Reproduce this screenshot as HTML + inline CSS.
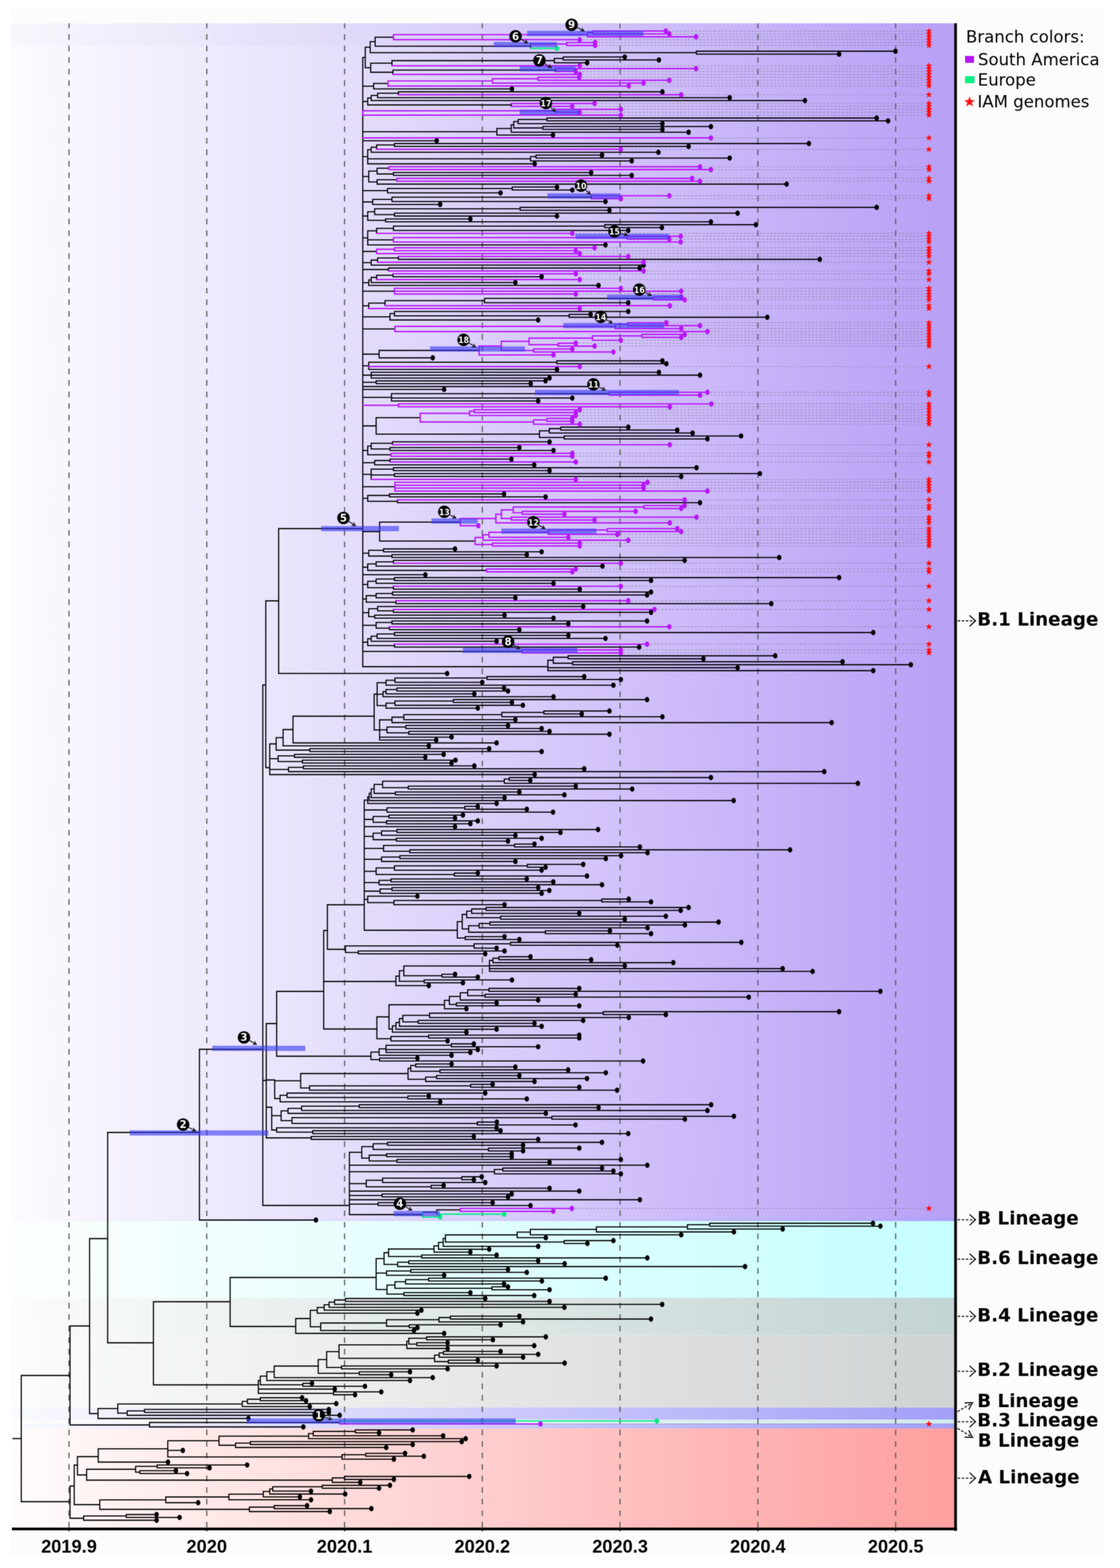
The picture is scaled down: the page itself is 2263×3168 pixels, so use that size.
<!DOCTYPE html>
<html lang="en"><head><meta charset="utf-8"><title>Phylogenetic tree</title>
<style>html,body{margin:0;padding:0;background:#fff}body{width:2263px;height:3168px;overflow:hidden}svg{display:block}.ax{font-family:"Liberation Sans",Arial,sans-serif;font-weight:700;font-size:36.8px;text-anchor:middle}.lg{font-family:"DejaVu Sans","Liberation Sans",sans-serif;font-size:33.45px}.ln{font-family:"DejaVu Sans","Liberation Sans",sans-serif;font-weight:700;font-size:36.95px}.nb{font-family:"DejaVu Sans","Liberation Sans",sans-serif;font-weight:700;fill:#fff;text-anchor:middle}</style></head><body>
<svg width="2263" height="3168" viewBox="0 0 2263 3168">
<defs>
<filter id="bl" filterUnits="userSpaceOnUse" x="0" y="0" width="2263" height="3168" color-interpolation-filters="sRGB"><feGaussianBlur stdDeviation="0.9" result="b"/><feComposite in="SourceGraphic" in2="b" operator="arithmetic" k1="0" k2="0.45" k3="0.55" k4="0"/></filter>
<linearGradient id="gp" gradientUnits="userSpaceOnUse" x1="25" y1="0" x2="1930" y2="0"><stop offset="0" stop-color="#fcfbff"/><stop offset="0.3" stop-color="#e9e3fc"/><stop offset="0.7" stop-color="#cebcfa"/><stop offset="1" stop-color="#b8a0f6"/></linearGradient>
<linearGradient id="gc" gradientUnits="userSpaceOnUse" x1="25" y1="0" x2="1930" y2="0"><stop offset="0" stop-color="#fcfefe"/><stop offset="1" stop-color="#c6feff"/></linearGradient>
<linearGradient id="g4" gradientUnits="userSpaceOnUse" x1="25" y1="0" x2="1930" y2="0"><stop offset="0" stop-color="#fbfcfc"/><stop offset="1" stop-color="#c2d4d3"/></linearGradient>
<linearGradient id="g2" gradientUnits="userSpaceOnUse" x1="25" y1="0" x2="1930" y2="0"><stop offset="0" stop-color="#fcfcfc"/><stop offset="1" stop-color="#d0d3d3"/></linearGradient>
<linearGradient id="gb" gradientUnits="userSpaceOnUse" x1="25" y1="0" x2="1930" y2="0"><stop offset="0" stop-color="#fafaff"/><stop offset="1" stop-color="#a39ff8"/></linearGradient>
<linearGradient id="g3" gradientUnits="userSpaceOnUse" x1="25" y1="0" x2="1930" y2="0"><stop offset="0" stop-color="#fcfdfd"/><stop offset="1" stop-color="#d2ebeb"/></linearGradient>
<linearGradient id="gr" gradientUnits="userSpaceOnUse" x1="25" y1="0" x2="1930" y2="0"><stop offset="0" stop-color="#fffcfc"/><stop offset="1" stop-color="#ff9f9f"/></linearGradient>
<linearGradient id="gtop" gradientUnits="userSpaceOnUse" x1="22" y1="0" x2="1930" y2="0"><stop offset="0" stop-color="#b0b8e0" stop-opacity="0.05"/><stop offset="0.3" stop-color="#a8b0e8" stop-opacity="0.08"/><stop offset="1" stop-color="#a8b0e8" stop-opacity="0"/></linearGradient>
</defs>
<g filter="url(#bl)">
<rect x="0" y="0" width="2263" height="3168" fill="#fff"/>
<rect x="22" y="16" width="2208" height="3125" fill="#fcfcfc"/>
<rect x="25" y="47" width="1905" height="2420" fill="url(#gp)"/>
<rect x="25" y="2461.5" width="1905" height="5.5" fill="url(#gb)" opacity="0.55"/>
<rect x="22" y="47" width="1906" height="46" fill="url(#gtop)"/>
<rect x="25" y="2467" width="1905" height="155" fill="url(#gc)"/>
<rect x="25" y="2622" width="1905" height="75.5" fill="url(#g4)"/>
<rect x="25" y="2697.5" width="1905" height="146.5" fill="url(#g2)"/>
<rect x="25" y="2844" width="1905" height="24" fill="url(#gb)"/>
<rect x="25" y="2868" width="1905" height="8" fill="url(#g3)"/>
<rect x="25" y="2876" width="1905" height="10" fill="url(#gb)"/>
<rect x="25" y="2886" width="1905" height="202" fill="url(#gr)"/>
<clipPath id="cp"><rect x="0" y="47.3" width="2263" height="3050"/></clipPath>
<g clip-path="url(#cp)">
<line x1="139.4" y1="45.75" x2="139.4" y2="3086" stroke="#626262" stroke-width="2.5" stroke-dasharray="11.4 11.9"/>
<line x1="417.8" y1="45.75" x2="417.8" y2="3086" stroke="#626262" stroke-width="2.5" stroke-dasharray="11.4 11.9"/>
<line x1="696.2" y1="45.75" x2="696.2" y2="3086" stroke="#626262" stroke-width="2.5" stroke-dasharray="11.4 11.9"/>
<line x1="974.5" y1="45.75" x2="974.5" y2="3086" stroke="#626262" stroke-width="2.5" stroke-dasharray="11.4 11.9"/>
<line x1="1252.9" y1="45.75" x2="1252.9" y2="3086" stroke="#626262" stroke-width="2.5" stroke-dasharray="11.4 11.9"/>
<line x1="1531.3" y1="45.75" x2="1531.3" y2="3086" stroke="#626262" stroke-width="2.5" stroke-dasharray="11.4 11.9"/>
<line x1="1809.7" y1="45.75" x2="1809.7" y2="3086" stroke="#626262" stroke-width="2.5" stroke-dasharray="11.4 11.9"/>
</g>
<path d="M1351.0 62.7H1869M1358.0 68.5H1869M1412.0 74.4H1869M1177.0 80.2H1869M1208.0 86.0H1869M1208.0 91.8H1869M1177.0 132.8H1869M1412.0 138.6H1869M1169.0 144.5H1869M1177.0 150.4H1869M1176.0 156.2H1869M1358.0 162.1H1869M1306.0 167.9H1869M1276.0 173.8H1869M1382.0 191.4H1869M1207.0 209.1H1869M1162.0 214.9H1869M1260.0 220.8H1869M1177.0 226.7H1869M1260.0 232.6H1869M1442.0 278.6H1869M1260.0 301.7H1869M1420.0 336.9H1869M1442.0 342.7H1869M1404.0 360.3H1869M1420.0 366.1H1869M1358.0 395.5H1869M1260.0 401.4H1869M1162.0 471.5H1869M1381.0 477.3H1869M1358.0 483.2H1869M1381.0 489.0H1869M1207.0 500.7H1869M1169.0 506.5H1869M1177.0 512.3H1869M1275.0 518.2H1869M1306.0 529.8H1869M1306.0 547.4H1869M1169.0 553.2H1869M1177.0 564.9H1869M1260.0 582.5H1869M1382.0 588.3H1869M1169.0 594.2H1869M1382.0 600.0H1869M1389.0 605.9H1869M1359.0 617.6H1869M1177.0 623.4H1869M1352.0 652.0H1869M1420.0 657.9H1869M1382.0 663.8H1869M1435.0 669.8H1869M1389.0 675.7H1869M1382.0 681.6H1869M1260.0 687.5H1869M1169.0 693.4H1869M1207.0 699.3H1869M1177.0 740.6H1869M1435.0 792.5H1869M1420.0 798.4H1869M1443.0 816.0H1869M1359.0 821.9H1869M1177.0 827.8H1869M1169.0 833.6H1869M1169.0 839.5H1869M1162.0 845.4H1869M1162.0 851.2H1869M1177.0 857.1H1869M1359.0 898.5H1869M1162.0 915.9H1869M1162.0 921.8H1869M1169.0 933.4H1869M1169.0 968.6H1869M1314.0 974.5H1869M1306.0 980.4H1869M1306.0 986.2H1869M1435.0 992.1H1869M1389.0 1009.8H1869M1389.0 1021.5H1869M1382.0 1027.3H1869M1413.0 1044.8H1869M1207.0 1050.6H1869M1359.0 1056.4H1869M1374.0 1068.0H1869M1382.0 1073.9H1869M1253.0 1079.7H1869M1154.0 1085.6H1869M1275.0 1091.4H1869M1177.0 1097.3H1869M1177.0 1103.1H1869M1260.0 1138.0H1869M1169.0 1149.6H1869M1162.0 1155.4H1869M1260.0 1184.5H1869M1275.0 1213.7H1869M1328.0 1231.3H1869M1358.0 1266.3H1869M1313.0 1301.5H1869M1260.0 1313.2H1869M1260.0 1319.1H1869M1161.0 2441.5H1869M1097.6 2877.0H1869" stroke="#7e7b8e" stroke-width="1.4" stroke-dasharray="4.2 3.4" fill="none" opacity="0.68"/>
<path d="M43.0 2779.0V3034.0M43.0 2779.0H141.5M141.5 2679.0V2879.0M141.5 2679.0H181.0M181.0 2502.5V2856.0M181.0 2502.5H217.5M217.5 2288.0V2713.0M217.5 2288.0H403.0M403.0 2120.0V2465.0M403.0 2120.0H531.0M531.0 1384.0V2435.5M531.0 1384.0H537.0M537.0 1214.0V1551.0M537.0 1214.0H563.0M563.0 1068.0V1360.7M563.0 1068.0H733.0M733.0 116.1V1347.0M733.0 116.1H738.0M738.0 95.3V136.8M738.0 95.3H748.0M748.0 84.2V106.4M748.0 84.2H758.0M758.0 75.1V93.3M758.0 75.1H795.0M758.0 93.3H1072.0M1072.0 88.9V97.7M748.0 106.4H1407.0M1407.0 103.5V109.4M1407.0 103.5H1809.0M1407.0 109.4H1695.0M738.0 136.8H749.0M749.0 127.7V146.0M749.0 127.7H792.0M792.0 122.5V132.8M792.0 122.5H1120.0M1120.0 118.1V126.9M1120.0 118.1H1138.0M1138.0 115.2V121.1M1138.0 115.2H1262.0M1138.0 121.1H1331.0M1120.0 126.9H1186.0M749.0 146.0H794.0M794.0 141.6V150.4M794.0 141.6H1122.0M1122.0 138.6V144.5M733.0 174.2H755.0M755.0 168.7V179.6M755.0 168.7H784.0M755.0 179.6H1034.0M733.0 205.0H743.0M743.0 198.0V212.0M743.0 198.0H750.0M750.0 192.9V203.2M750.0 192.9H763.0M763.0 188.4V197.3M763.0 188.4H805.0M805.0 185.5V191.4M805.0 185.5H1338.0M763.0 197.3H1474.0M750.0 203.2H1626.0M743.0 212.0H1033.0M1033.0 209.1V214.9M733.0 266.2H1004.0M1004.0 259.6V272.8M1004.0 259.6H1033.0M1033.0 252.1V267.1M1033.0 252.1H1038.0M1038.0 245.7V258.5M1038.0 245.7H1047.0M1047.0 241.4V249.9M1047.0 241.4H1105.0M1105.0 238.5V244.2M1105.0 238.5H1771.0M1105.0 244.2H1794.0M1047.0 249.9H1338.0M1038.0 258.5H1097.0M1097.0 255.7V261.4M1097.0 255.7H1436.0M1097.0 261.4H1338.0M1033.0 267.1H1391.0M1004.0 272.8H1117.0M733.0 284.3H882.0M733.0 316.7H743.0M743.0 302.4V331.0M743.0 302.4H750.0M750.0 297.3V307.6M750.0 297.3H761.0M761.0 292.9V301.7M761.0 292.9H797.0M797.0 290.0V295.9M797.0 290.0H1634.0M797.0 295.9H1391.0M750.0 307.6H1330.0M743.0 320.8H1072.0M1072.0 316.4V325.1M1072.0 316.4H1083.0M1083.0 313.4V319.3M1083.0 313.4H1216.0M1083.0 319.3H1474.0M1072.0 325.1H1276.0M743.0 331.0H1080.0M733.0 356.6H745.0M745.0 345.6V367.6M745.0 345.6H762.0M762.0 339.8V351.5M762.0 339.8H786.0M762.0 351.5H795.0M795.0 348.6V354.4M795.0 348.6H1194.0M795.0 354.4H1276.0M745.0 367.6H762.0M762.0 363.2V372.0M762.0 363.2H802.0M762.0 372.0H1589.0M733.0 385.2H783.0M783.0 380.8V389.6M783.0 380.8H1035.0M1035.0 377.9V383.8M1035.0 377.9H1125.0M1035.0 383.8H1156.0M783.0 389.6H1011.0M733.0 408.0H753.0M753.0 402.8V413.1M753.0 402.8H792.0M792.0 398.4V407.2M792.0 398.4H1195.0M1195.0 395.5V401.4M792.0 407.2H1223.0M753.0 413.1H889.0M733.0 436.5H743.0M743.0 427.8V445.2M743.0 427.8H757.0M757.0 421.9V433.6M757.0 421.9H1051.0M1051.0 419.0V424.8M1051.0 419.0H1771.0M1051.0 424.8H1231.0M757.0 433.6H797.0M797.0 430.7V436.5M797.0 430.7H1490.0M797.0 436.5H1125.0M743.0 445.2H779.0M779.0 442.3V448.2M779.0 442.3H950.0M779.0 448.2H1436.0M733.0 480.6H743.0M743.0 466.4V494.8M743.0 466.4H761.0M761.0 461.3V471.5M761.0 461.3H795.0M795.0 456.9V465.7M795.0 456.9H1222.0M1222.0 454.0V459.8M1222.0 454.0H1527.0M1222.0 459.8H1337.0M795.0 465.7H1269.0M743.0 484.6H795.0M743.0 494.8H1223.0M733.0 508.0H761.0M733.0 530.6H750.0M750.0 525.5V535.7M750.0 525.5H763.0M763.0 521.1V529.8M763.0 521.1H805.0M805.0 518.2V524.0M805.0 524.0H1656.0M750.0 535.7H1300.0M733.0 544.5H785.0M785.0 541.5V547.4M785.0 541.5H1292.0M733.0 571.1H745.0M745.0 565.7V576.6M745.0 565.7H750.0M750.0 560.5V570.8M750.0 560.5H761.0M761.0 556.2V564.9M761.0 556.2H794.0M794.0 553.2V559.1M794.0 559.1H1094.0M750.0 570.8H1041.0M745.0 576.6H1209.0M733.0 588.3H797.0M733.0 617.9H745.0M745.0 612.4V623.4M745.0 612.4H778.0M778.0 607.3V617.6M778.0 607.3H979.0M979.0 602.9V611.7M979.0 602.9H1320.0M979.0 611.7H1269.0M733.0 640.1H788.0M788.0 633.7V646.5M788.0 633.7H797.0M797.0 629.3V638.1M797.0 629.3H1269.0M797.0 638.1H1150.0M1150.0 635.1V641.0M1150.0 635.1H1193.0M1150.0 641.0H1550.0M788.0 646.5H1087.0M733.0 664.6H798.0M733.0 715.5H766.0M766.0 708.0V723.0M766.0 708.0H968.0M766.0 723.0H874.0M733.0 739.1H745.0M745.0 731.9V746.4M745.0 731.9H1125.0M1125.0 729.0V734.8M1125.0 729.0H1338.0M1125.0 734.8H1346.0M745.0 746.4H1125.0M733.0 758.0H750.0M750.0 752.2V763.8M750.0 752.2H1331.0M750.0 758.0H1414.0M750.0 763.8H1110.0M733.0 772.4H760.0M760.0 769.5V775.2M760.0 769.5H1102.0M760.0 775.2H1072.0M733.0 781.0H1195.0M733.0 786.8H897.0M733.0 802.8H791.0M791.0 795.4V810.1M791.0 795.4H1231.0M791.0 804.2H1156.0M791.0 810.1H1087.0M733.0 860.5H737.0M737.0 860.5V860.5M737.0 860.5H760.0M760.0 843.9V877.1M760.0 843.9H849.0M760.0 877.1H1090.0M1090.0 870.4V883.8M1090.0 870.4H1110.0M1110.0 866.0V874.9M1110.0 866.0H1133.0M1133.0 863.0V868.9M1133.0 863.0H1269.0M1133.0 868.9H1368.0M1110.0 874.9H1399.0M1090.0 883.8H1140.0M1140.0 880.8V886.8M1140.0 880.8H1497.0M1140.0 886.8H1429.0M733.0 910.1H743.0M743.0 901.4V918.9M743.0 901.4H750.0M750.0 895.6V907.2M750.0 895.6H793.0M793.0 892.7V898.5M793.0 892.7H1110.0M750.0 907.2H788.0M788.0 904.3V910.1M788.0 904.3H1049.0M788.0 910.1H1118.0M743.0 918.9H790.0M733.0 934.8H757.0M757.0 930.5V939.2M757.0 930.5H788.0M788.0 927.6V933.4M788.0 927.6H1033.0M757.0 939.2H1079.0M733.0 958.3H750.0M750.0 947.9V968.6M750.0 947.9H795.0M795.0 945.0V950.9M795.0 945.0H1407.0M795.0 950.9H1110.0M750.0 959.7H797.0M797.0 956.8V962.7M797.0 956.8H1535.0M797.0 962.7H1376.0M733.0 983.3H798.0M733.0 1006.9H743.0M743.0 1001.0V1012.8M743.0 1001.0H787.0M787.0 998.0V1003.9M787.0 998.0H1018.0M787.0 1003.9H1102.0M743.0 1012.8H803.0M803.0 1009.8V1015.7M803.0 1015.7H1414.0M733.0 1074.0H767.0M767.0 1054.9V1093.1M767.0 1054.9H930.0M767.0 1093.1H960.0M733.0 1117.7H745.0M745.0 1111.9V1123.5M745.0 1111.9H775.0M775.0 1109.0V1114.8M775.0 1109.0H919.0M775.0 1114.8H1094.0M745.0 1123.5H792.0M792.0 1120.6V1126.4M792.0 1120.6H1064.0M792.0 1126.4H1574.0M733.0 1146.0H743.0M743.0 1139.4V1152.5M743.0 1139.4H760.0M760.0 1135.1V1143.8M760.0 1135.1H795.0M795.0 1132.2V1138.0M795.0 1132.2H1383.0M760.0 1143.8H1217.0M743.0 1152.5H983.0M733.0 1161.2H859.0M733.0 1180.9H743.0M743.0 1174.3V1187.4M743.0 1174.3H760.0M760.0 1169.9V1178.7M760.0 1169.9H797.0M797.0 1167.0V1172.8M797.0 1167.0H1695.0M797.0 1172.8H1315.0M760.0 1178.7H1118.0M743.0 1187.4H795.0M795.0 1184.5V1190.4M795.0 1190.4H1171.0M733.0 1210.1H740.0M740.0 1203.5V1216.7M740.0 1203.5H760.0M760.0 1199.1V1207.9M760.0 1199.1H793.0M793.0 1196.2V1202.1M793.0 1196.2H1315.0M793.0 1202.1H1307.0M760.0 1207.9H1041.0M740.0 1216.7H800.0M800.0 1213.7V1219.6M800.0 1219.6H1558.0M733.0 1237.8H745.0M745.0 1229.8V1245.9M745.0 1229.8H763.0M763.0 1225.4V1234.2M763.0 1225.4H1178.0M763.0 1234.2H795.0M795.0 1231.3V1237.1M795.0 1237.1H1315.0M745.0 1245.9H757.0M757.0 1242.9V1248.8M757.0 1242.9H1019.0M757.0 1248.8H1118.0M733.0 1263.4H743.0M743.0 1263.4V1263.4M743.0 1263.4H760.0M760.0 1257.6V1269.2M760.0 1257.6H792.0M792.0 1254.6V1260.5M792.0 1254.6H1307.0M792.0 1260.5H1148.0M760.0 1269.2H787.0M787.0 1266.3V1272.2M787.0 1272.2H1049.0M733.0 1297.5H743.0M743.0 1290.5V1304.4M743.0 1290.5H750.0M750.0 1285.3V1295.6M750.0 1285.3H762.0M762.0 1280.9V1289.8M762.0 1280.9H797.0M797.0 1278.0V1283.9M797.0 1278.0H1764.0M797.0 1283.9H1148.0M762.0 1289.8H1223.0M750.0 1295.6H1003.0M743.0 1304.4H797.0M797.0 1301.5V1307.4M797.0 1307.4H1291.0M733.0 1316.2H1055.0M733.0 1347.0H1107.0M1107.0 1334.0V1355.0M1107.0 1334.0H1118.0M1118.0 1328.0V1340.0M1118.0 1328.0H1148.0M1148.0 1325.0V1331.0M1148.0 1325.0H1566.0M1148.0 1331.0H1421.0M1118.0 1340.0H1157.0M1157.0 1337.0V1343.0M1157.0 1337.0H1702.0M1157.0 1343.0H1840.0M1107.0 1349.0H1490.0M1107.0 1355.0H1764.0M563.0 1360.7H903.0M537.0 1551.0H545.0M545.0 1503.0V1565.0M545.0 1503.0H558.0M558.0 1490.4V1515.5M558.0 1490.4H572.0M572.0 1474.0V1506.8M572.0 1474.0H592.0M592.0 1447.0V1501.0M592.0 1447.0H756.0M756.0 1402.5V1474.8M756.0 1402.5H762.0M762.0 1379.4V1425.7M762.0 1379.4H780.0M780.0 1374.3V1384.4M780.0 1374.3H798.0M798.0 1369.9V1378.6M798.0 1369.9H984.0M984.0 1367.0V1372.8M984.0 1367.0H1180.0M984.0 1372.8H1254.0M798.0 1378.6H974.0M780.0 1384.4H1239.0M762.0 1402.6H774.0M774.0 1397.5V1407.7M774.0 1397.5H780.0M780.0 1393.2V1401.9M780.0 1393.2H802.0M802.0 1390.2V1396.1M802.0 1390.2H1018.0M802.0 1396.1H1026.0M780.0 1401.9H958.0M774.0 1407.7H1118.0M762.0 1425.7H780.0M780.0 1420.7V1430.8M780.0 1420.7H798.0M798.0 1416.4V1425.0M798.0 1416.4H916.0M916.0 1413.5V1419.2M916.0 1413.5H1307.0M916.0 1419.2H1034.0M798.0 1425.0H1056.0M780.0 1430.8H965.0M756.0 1474.8H767.0M767.0 1454.5V1495.2M767.0 1454.5H792.0M792.0 1449.0V1460.0M792.0 1449.0H816.0M816.0 1443.8V1454.1M816.0 1443.8H1014.0M1014.0 1439.4V1448.2M1014.0 1439.4H1099.0M1099.0 1436.5V1442.4M1099.0 1436.5H1231.0M1099.0 1442.4H1175.0M1014.0 1448.2H1338.0M816.0 1454.1H1041.0M792.0 1460.0H1680.0M767.0 1474.7H782.0M782.0 1468.8V1480.6M782.0 1468.8H820.0M820.0 1465.9V1471.8M820.0 1465.9H1026.0M820.0 1471.8H1094.0M782.0 1480.6H826.0M826.0 1477.6V1483.5M826.0 1477.6H1110.0M826.0 1483.5H1231.0M767.0 1489.3H912.0M767.0 1495.2H881.0M592.0 1501.0H1003.0M572.0 1506.8H866.0M558.0 1515.5H626.0M626.0 1512.6V1518.4M626.0 1512.6H988.0M626.0 1518.4H1094.0M545.0 1532.9H562.0M562.0 1527.1V1538.7M562.0 1527.1H595.0M595.0 1524.2V1530.0M595.0 1524.2H896.0M595.0 1530.0H859.0M562.0 1538.7H611.0M611.0 1535.8V1541.6M611.0 1535.8H920.0M611.0 1541.6H912.0M545.0 1554.7H583.0M583.0 1550.3V1559.0M583.0 1550.3H613.0M613.0 1547.4V1553.2M613.0 1547.4H958.0M613.0 1553.2H1180.0M583.0 1559.0H1665.0M545.0 1565.0H1080.0M531.0 2183.0H538.0M538.0 2068.0V2299.0M538.0 2068.0H559.0M559.0 2003.0V2134.0M559.0 2003.0H654.0M654.0 1880.0V2079.0M654.0 1880.0H661.5M661.5 1828.0V1918.0M661.5 1828.0H736.0M736.0 1616.7V1879.5M736.0 1616.7H743.0M743.0 1610.1V1623.3M743.0 1610.1H746.0M746.0 1602.8V1617.5M746.0 1602.8H750.0M750.0 1593.9V1611.7M750.0 1593.9H756.0M756.0 1584.8V1603.0M756.0 1584.8H773.0M773.0 1578.3V1591.3M773.0 1578.3H1019.0M1019.0 1573.9V1582.6M1019.0 1573.9H1029.0M1029.0 1571.0V1576.8M1029.0 1571.0H1436.0M1029.0 1576.8H1071.0M1019.0 1582.6H1733.0M773.0 1591.3H825.0M825.0 1588.4V1594.2M825.0 1588.4H1163.0M825.0 1594.2H1277.0M756.0 1603.0H799.0M799.0 1600.1V1605.9M799.0 1600.1H1049.0M799.0 1605.9H1140.0M750.0 1611.7H1019.0M746.0 1617.5H1482.0M743.0 1623.3H1003.0M736.0 1636.5H782.0M782.0 1632.1V1640.9M782.0 1632.1H939.0M939.0 1629.2V1635.0M939.0 1629.2H965.0M939.0 1635.0H1064.0M782.0 1640.9H1117.0M736.0 1655.5H754.0M754.0 1649.7V1661.4M754.0 1649.7H786.0M786.0 1646.8V1652.6M786.0 1646.8H935.0M786.0 1652.6H919.0M754.0 1661.4H781.0M781.0 1658.5V1664.3M781.0 1658.5H965.0M781.0 1664.3H950.0M736.0 1670.2H919.0M736.0 1689.9H754.0M754.0 1683.3V1696.5M754.0 1683.3H771.0M771.0 1678.9V1687.7M771.0 1678.9H802.0M802.0 1676.0V1681.9M802.0 1676.0H1208.0M802.0 1681.9H1132.0M771.0 1687.7H1041.0M754.0 1696.5H801.0M801.0 1693.6V1699.4M801.0 1693.6H1094.0M801.0 1699.4H1026.0M736.0 1714.1H775.0M775.0 1708.2V1719.9M775.0 1708.2H1039.5M1039.5 1705.3V1711.1M1039.5 1705.3H1079.5M1039.5 1711.1H1292.5M775.0 1719.9H828.0M828.0 1717.0V1722.9M828.0 1717.0H1596.0M828.0 1722.9H1308.0M736.0 1736.1H771.0M771.0 1731.7V1740.5M771.0 1731.7H808.0M808.0 1728.8V1734.6M808.0 1728.8H1254.5M808.0 1734.6H1223.6M771.0 1740.5H1041.0M736.0 1760.3H760.0M760.0 1753.7V1766.9M760.0 1753.7H797.0M797.0 1749.3V1758.1M797.0 1749.3H1065.5M1065.5 1746.4V1752.2M1065.5 1746.4H1178.0M1065.5 1752.2H1102.0M797.0 1758.1H1094.0M760.0 1766.9H918.0M918.0 1764.0V1769.9M918.0 1764.0H965.0M918.0 1769.9H1185.6M736.0 1783.1H766.0M766.0 1778.7V1787.5M766.0 1778.7H790.0M790.0 1775.8V1781.6M790.0 1775.8H1064.0M790.0 1781.6H1117.5M766.0 1787.5H1216.0M736.0 1800.5H768.0M768.0 1796.2V1804.9M768.0 1796.2H792.0M792.0 1793.3V1799.1M792.0 1793.3H1087.0M792.0 1799.1H1109.5M768.0 1804.9H1094.0M736.0 1817.1H743.0M743.0 1810.7V1823.6M743.0 1810.7H843.0M743.0 1823.6H796.0M796.0 1819.3V1827.8M796.0 1819.3H1216.0M1216.0 1816.5V1822.2M1216.0 1816.5H1270.0M1216.0 1822.2H1315.0M796.0 1827.8H1019.0M736.0 1879.5H924.0M924.0 1862.2V1895.2M924.0 1862.2H934.0M934.0 1847.5V1876.9M934.0 1847.5H943.0M943.0 1840.9V1854.2M943.0 1840.9H953.0M953.0 1836.5V1845.3M953.0 1836.5H982.0M982.0 1833.5V1839.4M982.0 1833.5H1391.0M982.0 1839.4H1375.0M953.0 1845.3H1170.0M943.0 1854.2H1011.5M1011.5 1851.2V1857.1M1011.5 1851.2H1345.0M1011.5 1857.1H1262.0M934.0 1876.9H947.0M947.0 1870.3V1883.5M947.0 1870.3H968.0M968.0 1865.9V1874.7M968.0 1865.9H990.0M990.0 1863.0V1868.9M990.0 1863.0H1451.5M990.0 1868.9H1383.5M968.0 1874.7H1308.0M947.0 1883.5H1102.0M1102.0 1880.6V1886.4M1102.0 1880.6H1232.0M1102.0 1886.4H1315.0M924.0 1895.2H940.0M940.0 1892.3V1898.1M940.0 1892.3H1019.0M940.0 1898.1H1049.0M661.5 1918.0H698.0M698.0 1911.2V1924.3M698.0 1911.2H958.0M958.0 1906.9V1915.6M958.0 1906.9H1031.5M1031.5 1904.0V1909.8M1031.5 1904.0H1497.5M1031.5 1909.8H1247.0M958.0 1915.6H1003.0M698.0 1924.3H724.0M724.0 1921.4V1927.2M724.0 1921.4H1019.0M724.0 1927.2H980.0M654.0 1983.0H800.0M800.0 1972.1V1991.3M800.0 1972.1H807.0M807.0 1961.4V1982.7M807.0 1961.4H816.0M816.0 1951.6V1971.3M816.0 1951.6H989.0M989.0 1940.5V1962.7M989.0 1940.5H996.0M996.0 1936.0V1945.0M996.0 1936.0H1008.0M1008.0 1933.0V1939.0M1008.0 1933.0H1071.5M1008.0 1939.0H1194.0M996.0 1945.0H1360.0M989.0 1951.0H1262.0M989.0 1957.0H1581.0M989.0 1962.7H1641.5M816.0 1971.3H893.0M893.0 1968.4V1974.1M893.0 1968.4H919.0M893.0 1974.1H965.0M807.0 1982.7H857.0M857.0 1979.9V1985.6M857.0 1979.9H1034.0M857.0 1985.6H935.0M800.0 1991.3H866.0M654.0 2079.0H761.5M761.5 2054.5V2098.7M761.5 2054.5H786.0M786.0 2030.0V2079.0M786.0 2030.0H898.0M898.0 2021.2V2038.1M898.0 2021.2H908.0M908.0 2013.2V2029.3M908.0 2013.2H930.0M930.0 2005.8V2020.5M930.0 2005.8H945.0M945.0 1999.9V2011.7M945.0 1999.9H988.0M988.0 1997.0V2002.9M988.0 1997.0H1170.0M988.0 2002.9H1778.5M945.0 2011.7H980.0M980.0 2008.8V2014.6M980.0 2008.8H1163.0M980.0 2014.6H1512.5M930.0 2020.5H1087.0M908.0 2029.3H922.0M922.0 2026.4V2032.2M922.0 2026.4H1003.0M922.0 2032.2H1170.0M898.0 2038.1H942.0M786.0 2079.0H793.0M793.0 2072.6V2085.4M793.0 2072.6H800.0M800.0 2065.8V2079.5M800.0 2065.8H807.0M807.0 2058.0V2073.5M807.0 2058.0H814.0M814.0 2051.4V2064.7M814.0 2051.4H868.0M868.0 2047.0V2055.8M868.0 2047.0H1219.0M1219.0 2044.0V2049.9M1219.0 2044.0H1695.0M1219.0 2049.9H1345.0M868.0 2055.8H1270.0M814.0 2064.7H845.0M845.0 2061.7V2067.6M845.0 2061.7H1178.0M845.0 2067.6H1079.5M807.0 2073.5H1094.0M800.0 2079.5H1003.0M793.0 2085.4H942.0M761.5 2098.7H775.6M775.6 2098.7V2098.7M775.6 2098.7H790.0M790.0 2094.2V2103.1M790.0 2094.2H866.0M866.0 2091.3V2097.2M866.0 2091.3H1170.0M866.0 2097.2H1170.0M790.0 2103.1H904.0M559.0 2134.0H749.5M749.5 2125.6V2140.8M749.5 2125.6H766.0M766.0 2119.1V2132.1M766.0 2119.1H780.0M780.0 2111.9V2126.3M780.0 2111.9H912.0M912.0 2109.0V2114.8M912.0 2109.0H957.0M912.0 2114.8H1087.0M780.0 2120.6H965.0M780.0 2126.3H950.0M766.0 2132.1H912.0M749.5 2140.8H767.0M767.0 2137.9V2143.7M767.0 2137.9H843.0M767.0 2143.7H1299.0M538.0 2182.0H555.0M555.0 2182.0V2219.5M555.0 2183.6H607.5M607.5 2169.0V2198.2M607.5 2169.0H824.5M824.5 2158.5V2180.6M824.5 2158.5H830.0M830.0 2152.6V2164.4M830.0 2152.6H840.0M840.0 2149.7V2155.6M840.0 2149.7H912.0M840.0 2155.6H1041.0M830.0 2164.4H889.0M889.0 2161.5V2167.3M889.0 2161.5H1147.5M889.0 2167.3H1223.6M824.5 2180.6H860.0M860.0 2176.2V2185.0M860.0 2176.2H882.0M882.0 2173.2V2179.1M882.0 2173.2H1049.0M882.0 2179.1H1185.6M860.0 2185.0H1079.5M607.5 2198.2H625.5M625.5 2193.8V2202.6M625.5 2193.8H951.0M951.0 2190.8V2196.7M951.0 2190.8H995.0M951.0 2196.7H1170.0M625.5 2202.6H1246.5M555.0 2219.5H566.0M566.0 2212.9V2226.1M566.0 2212.9H580.0M580.0 2208.5V2217.3M580.0 2208.5H980.0M580.0 2217.3H824.0M824.0 2214.4V2220.2M824.0 2214.4H866.0M824.0 2220.2H1064.0M566.0 2226.1H889.0M538.0 2237.0H549.0M549.0 2237.0V2283.0M549.0 2254.2H568.0M568.0 2244.4V2264.1M568.0 2244.4H582.0M582.0 2239.3V2249.5M582.0 2239.3H609.5M609.5 2234.9V2243.7M609.5 2234.9H726.0M726.0 2232.0V2237.8M726.0 2232.0H1436.5M726.0 2237.8H1209.0M609.5 2243.7H1429.0M582.0 2249.5H1102.5M568.0 2264.1H590.0M590.0 2258.2V2269.9M590.0 2258.2H1115.0M1115.0 2255.3V2261.2M1115.0 2255.3H1482.5M1115.0 2261.2H1383.5M590.0 2269.9H964.5M964.5 2267.0V2272.8M964.5 2267.0H1003.5M964.5 2272.8H1162.5M549.0 2283.0H559.0M559.0 2278.7V2287.4M559.0 2278.7H1003.0M559.0 2287.4H632.0M632.0 2284.5V2290.3M632.0 2284.5H1011.0M632.0 2290.3H1269.0M538.0 2299.0H629.0M629.0 2296.2V2302.0M629.0 2296.2H957.0M629.0 2302.0H1087.0M531.0 2435.5H706.0M706.0 2328.2V2454.0M706.0 2328.2H731.0M731.0 2316.7V2339.8M731.0 2316.7H754.0M754.0 2310.9V2322.4M754.0 2310.9H783.0M783.0 2308.0V2313.8M783.0 2308.0H1216.0M783.0 2313.8H1056.5M754.0 2322.4H987.0M987.0 2319.6V2325.3M987.0 2319.6H1170.0M987.0 2325.3H1056.5M731.0 2339.8H746.0M746.0 2334.0V2345.6M746.0 2334.0H781.0M781.0 2331.1V2336.9M781.0 2331.1H1033.5M781.0 2336.9H1033.5M746.0 2345.6H802.0M802.0 2342.7V2348.4M802.0 2342.7H1254.0M802.0 2348.4H1110.0M706.0 2354.2H1307.5M706.0 2367.3H999.0M999.0 2362.9V2371.6M999.0 2362.9H1016.0M1016.0 2360.0V2365.8M1016.0 2360.0H1216.0M1016.0 2365.8H1239.0M999.0 2371.6H1254.0M706.0 2391.3H740.0M740.0 2384.7V2397.8M740.0 2384.7H773.0M773.0 2380.4V2389.1M773.0 2380.4H933.0M933.0 2377.5V2383.3M933.0 2377.5H973.0M933.0 2383.3H957.0M773.0 2389.1H980.0M740.0 2397.8H871.0M871.0 2394.9V2400.7M871.0 2394.9H896.0M871.0 2400.7H1110.0M706.0 2406.5H1170.0M706.0 2415.3H772.0M772.0 2412.4V2418.2M772.0 2412.4H1033.5M772.0 2418.2H1026.0M706.0 2424.0H1292.5M706.0 2432.8H764.0M764.0 2429.8V2435.7M764.0 2429.8H995.0M764.0 2435.7H1071.5M706.0 2454.0H854.0M854.0 2448.8H882.5M882.5 2444.4V2453.2M882.5 2444.4H930.0M403.0 2465.0H638.0M217.5 2713.0H310.0M310.0 2630.0V2798.0M310.0 2630.0H465.0M465.0 2581.0V2680.0M465.0 2581.0H760.0M760.0 2542.8V2605.4M760.0 2542.8H776.0M776.0 2531.0V2554.6M776.0 2531.0H785.0M785.0 2523.5V2538.6M785.0 2523.5H877.0M877.0 2517.1V2529.8M877.0 2517.1H886.0M886.0 2510.2V2524.0M886.0 2510.2H895.5M895.5 2502.2V2518.2M895.5 2502.2H900.0M900.0 2495.0V2509.4M900.0 2495.0H1045.0M1045.0 2489.4V2500.7M1045.0 2489.4H1071.5M1071.5 2483.9V2494.8M1071.5 2483.9H1205.0M1205.0 2478.8V2489.0M1205.0 2478.8H1389.0M1389.0 2474.4V2483.2M1389.0 2474.4H1434.0M1434.0 2471.5V2477.3M1434.0 2471.5H1763.5M1434.0 2477.3H1778.5M1389.0 2483.2H1581.0M1205.0 2489.0H1482.5M1071.5 2494.8H1376.0M1045.0 2500.7H1102.5M900.0 2509.4H1140.0M1140.0 2506.5V2512.3M1140.0 2506.5H1239.0M1140.0 2512.3H1186.5M895.5 2518.2H1087.0M886.0 2524.0H988.0M877.0 2529.8H950.0M785.0 2538.6H852.0M852.0 2535.7V2541.5M852.0 2535.7H1003.0M852.0 2541.5H1307.5M776.0 2554.6H803.5M803.5 2550.2V2559.0M803.5 2550.2H826.0M826.0 2547.3V2553.2M826.0 2547.3H1087.0M826.0 2553.2H1140.5M803.5 2559.0H1505.0M760.0 2572.2H781.0M781.0 2567.8V2576.6M781.0 2567.8H830.0M830.0 2564.8V2570.7M830.0 2564.8H1026.0M830.0 2570.7H1064.0M781.0 2576.6H897.0M760.0 2605.4H782.0M782.0 2596.3V2614.6M782.0 2596.3H798.0M798.0 2589.7V2602.9M798.0 2589.7H819.5M819.5 2585.3V2594.1M819.5 2585.3H866.0M866.0 2582.4V2588.2M866.0 2582.4H1223.5M866.0 2588.2H1094.5M819.5 2594.1H1018.0M798.0 2602.9H994.0M994.0 2599.9V2605.8M994.0 2599.9H1026.0M994.0 2605.8H1110.0M782.0 2614.6H816.0M816.0 2611.7V2617.5M816.0 2611.7H950.0M816.0 2617.5H1079.0M465.0 2680.0H597.5M597.5 2664.0V2694.0M597.5 2664.0H627.0M627.0 2647.4V2680.6M627.0 2647.4H641.0M641.0 2641.7V2653.1M641.0 2641.7H655.0M655.0 2636.1V2647.2M655.0 2636.1H665.0M665.0 2630.9V2641.3M665.0 2630.9H676.0M676.0 2626.5V2635.4M676.0 2626.5H698.0M698.0 2623.5V2629.4M698.0 2623.5H980.0M698.0 2629.4H1110.0M676.0 2635.4H1337.5M665.0 2641.3H1140.0M655.0 2647.2H851.0M641.0 2653.1H843.0M627.0 2680.6H648.0M648.0 2673.0V2688.2M648.0 2673.0H781.0M781.0 2666.4V2679.5M781.0 2666.4H887.0M887.0 2662.0V2670.8M887.0 2662.0H910.0M910.0 2659.1V2665.0M910.0 2659.1H1049.0M910.0 2665.0H1315.0M887.0 2670.8H1056.5M781.0 2679.5H827.0M827.0 2676.6V2682.4M827.0 2676.6H1011.0M827.0 2682.4H843.0M648.0 2688.2H836.0M597.5 2694.0H897.0M310.0 2798.0H522.0M522.0 2789.1V2815.1M522.0 2789.1H526.0M526.0 2780.4V2797.9M526.0 2780.4H539.0M539.0 2771.7V2789.2M539.0 2771.7H554.0M554.0 2760.0V2783.3M554.0 2760.0H643.0M643.0 2746.8V2774.6M643.0 2746.8H660.0M660.0 2730.8V2762.8M660.0 2730.8H685.0M685.0 2717.2V2744.4M685.0 2717.2H822.0M822.0 2709.8V2724.5M822.0 2709.8H826.0M826.0 2703.9V2715.7M826.0 2703.9H862.0M862.0 2701.0V2706.9M862.0 2701.0H1102.5M862.0 2706.9H995.5M826.0 2715.7H842.0M842.0 2712.8V2718.7M842.0 2712.8H904.0M842.0 2718.7H1079.0M822.0 2724.5H904.0M685.0 2744.4H878.0M878.0 2737.8V2751.0M878.0 2737.8H887.5M887.5 2733.4V2742.2M887.5 2733.4H896.0M896.0 2730.4V2736.3M896.0 2730.4H1011.0M896.0 2736.3H1087.0M887.5 2742.2H1056.5M878.0 2751.0H906.0M906.0 2748.1V2754.0M906.0 2748.1H965.0M906.0 2754.0H1140.5M660.0 2762.8H690.0M690.0 2759.8V2765.7M690.0 2759.8H1003.0M690.0 2765.7H904.0M643.0 2774.6H726.0M726.0 2771.6V2777.5M726.0 2771.6H828.0M726.0 2777.5H790.0M554.0 2783.3H874.0M539.0 2789.2H828.0M526.0 2797.9H612.0M612.0 2795.0V2800.8M612.0 2795.0H630.0M612.0 2800.8H737.0M522.0 2806.5H676.0M522.0 2815.1H674.0M674.0 2812.2V2818.0M674.0 2812.2H770.0M674.0 2818.0H717.0M181.0 2856.0H198.0M198.0 2845.8V2866.0M198.0 2845.8H238.0M238.0 2836.6V2855.1M238.0 2836.6H483.0M483.0 2836.6V2836.6M483.0 2836.6H489.5M489.5 2831.4V2841.8M489.5 2831.4H500.0M500.0 2827.0V2835.8M500.0 2827.0H526.0M526.0 2824.0V2829.9M526.0 2824.0H610.0M526.0 2829.9H618.0M500.0 2835.8H679.0M489.5 2841.8H625.5M238.0 2855.1H257.0M257.0 2850.6V2859.5M257.0 2850.6H292.0M292.0 2847.7V2853.6M292.0 2847.7H664.0M292.0 2853.6H664.0M257.0 2859.5H686.0M198.0 2866.0H501.5M141.5 2879.0H302.0M302.0 2874.0V2883.0M302.0 2874.0H686.5M302.0 2883.0H612.5M43.0 3034.0H141.5M141.5 3002.5V3067.5M141.5 3002.5H150.0M150.0 2960.0V3040.0M150.0 2960.0H156.5M156.5 2943.0V2980.0M156.5 2943.0H198.5M198.5 2927.2V2954.0M198.5 2927.2H339.0M339.0 2910.8V2943.7M339.0 2910.8H442.5M442.5 2901.6V2920.0M442.5 2901.6H623.5M623.5 2896.4V2906.7M623.5 2896.4H633.0M633.0 2892.0V2900.8M633.0 2892.0H718.0M718.0 2889.0V2894.9M718.0 2889.0H833.5M718.0 2894.9H765.5M633.0 2900.8H895.0M623.5 2906.7H940.5M442.5 2920.0H476.0M476.0 2915.6V2924.5M476.0 2915.6H506.0M506.0 2912.6V2918.5M506.0 2912.6H932.5M506.0 2918.5H833.5M476.0 2924.5H780.0M339.0 2930.4H369.0M339.0 2943.7H691.0M691.0 2939.2V2948.1M691.0 2939.2H739.0M739.0 2936.3V2942.2M739.0 2936.3H818.0M739.0 2942.2H856.0M691.0 2948.1H795.5M198.5 2954.0H339.0M156.5 2980.0H175.0M175.0 2968.5V2990.5M175.0 2968.5H274.0M274.0 2962.7V2974.3M274.0 2962.7H317.5M317.5 2959.8V2965.6M317.5 2959.8H499.0M317.5 2965.6H423.0M274.0 2974.3H282.5M282.5 2971.4V2977.2M282.5 2971.4H355.0M282.5 2977.2H377.5M175.0 2990.5H671.5M671.5 2986.0V2995.0M671.5 2986.0H696.0M696.0 2983.0V2989.0M696.0 2983.0H947.7M696.0 2989.0H795.5M671.5 2995.0H727.5M150.0 3040.0H201.5M201.5 3030.3V3049.5M201.5 3030.3H335.0M335.0 3024.5V3036.0M335.0 3024.5H462.5M462.5 3018.9V3030.2M462.5 3018.9H532.0M532.0 3013.4V3024.3M532.0 3013.4H545.0M545.0 3008.3V3018.5M545.0 3008.3H551.0M551.0 3003.9V3012.7M551.0 3003.9H651.0M651.0 3001.0V3006.8M651.0 3001.0H787.5M651.0 3006.8H765.5M551.0 3012.7H628.0M545.0 3018.5H697.0M532.0 3024.3H605.5M462.5 3030.2H628.0M335.0 3036.0H400.0M201.5 3049.5H504.0M504.0 3045.0V3054.0M504.0 3045.0H554.0M554.0 3042.0V3048.0M554.0 3042.0H620.0M554.0 3048.0H750.0M504.0 3054.0H666.0M141.5 3067.5H169.0M169.0 3062.9V3071.5M169.0 3062.9H255.0M255.0 3060.0V3065.8M255.0 3060.0H316.0M255.0 3065.8H362.5M169.0 3071.5H316.0" stroke="#000" stroke-width="2.3" stroke-linecap="square" fill="none"/>
<path d="M795.0 70.0V80.2M795.0 70.0H1187.0M1187.0 65.6V74.4M1187.0 65.6H1197.0M1197.0 62.7V68.5M1197.0 62.7H1345.0M1197.0 68.5H1352.0M1187.0 74.4H1406.0M795.0 80.2H1171.0M1072.0 88.9H1145.0M1145.0 86.0V91.8M1145.0 86.0H1202.0M1145.0 91.8H1202.0M792.0 132.8H1171.0M1122.0 138.6H1406.0M1122.0 144.5H1163.0M794.0 150.4H1171.0M784.0 163.5V173.8M784.0 163.5H995.0M995.0 159.1V167.9M995.0 159.1H1087.0M1087.0 156.2V162.1M1087.0 156.2H1170.0M1087.0 162.1H1352.0M995.0 167.9H1300.0M784.0 173.8H1270.0M805.0 191.4H1376.0M1033.0 209.1H1201.0M1033.0 214.9H1156.0M733.0 228.2H733.0M733.0 223.8V232.6M733.0 223.8H1123.0M1123.0 220.8V226.7M1123.0 220.8H1254.0M1123.0 226.7H1171.0M733.0 232.6H1254.0M733.0 278.6H1436.0M761.0 301.7H1254.0M786.0 336.9V342.7M786.0 336.9H1414.0M786.0 342.7H1436.0M802.0 360.3V366.1M802.0 360.3H1398.0M802.0 366.1H1414.0M1195.0 395.5H1352.0M1195.0 401.4H1254.0M761.0 471.5H1156.0M795.0 480.2V489.0M795.0 480.2H1267.0M1267.0 477.3V483.2M1267.0 477.3H1375.0M1267.0 483.2H1352.0M795.0 489.0H1375.0M761.0 503.6V512.3M761.0 503.6H797.0M797.0 500.7V506.5M797.0 500.7H1201.0M797.0 506.5H1163.0M761.0 512.3H1171.0M805.0 518.2H1269.0M763.0 529.8H1300.0M785.0 547.4H1300.0M794.0 553.2H1163.0M761.0 564.9H1171.0M797.0 582.5V594.2M797.0 582.5H1254.0M797.0 588.3H1376.0M797.0 594.2H1163.0M1320.0 600.0V605.9M1320.0 600.0H1376.0M1320.0 605.9H1383.0M778.0 617.6H1353.0M745.0 623.4H1171.0M798.0 659.4V669.8M798.0 659.4H1243.0M1243.0 655.0V663.8M1243.0 655.0H1268.0M1268.0 652.0V657.9M1268.0 652.0H1346.0M1268.0 657.9H1414.0M1243.0 663.8H1376.0M798.0 669.8H1429.0M968.0 699.0V717.1M968.0 699.0H1013.0M1013.0 689.7V708.2M1013.0 689.7H1069.0M1069.0 683.1V696.4M1069.0 683.1H1197.0M1197.0 678.6V687.5M1197.0 678.6H1297.0M1297.0 675.7V681.6M1297.0 675.7H1383.0M1297.0 681.6H1376.0M1197.0 687.5H1254.0M1069.0 696.4H1128.0M1128.0 693.4V699.3M1128.0 693.4H1163.0M1128.0 699.3H1201.0M1013.0 708.2H1078.0M1078.0 705.2V711.2M1078.0 705.2H1156.0M1078.0 711.2H1239.0M968.0 717.1H1118.0M745.0 740.6H1171.0M1231.0 792.5V798.4M1231.0 792.5H1429.0M1231.0 798.4H1414.0M733.0 818.9H805.0M805.0 816.0V821.9M805.0 816.0H1437.0M805.0 821.9H1353.0M849.0 835.1V852.7M849.0 835.1H949.0M949.0 830.7V839.5M949.0 830.7H958.0M958.0 827.8V833.6M958.0 827.8H1171.0M958.0 833.6H1163.0M949.0 839.5H1163.0M849.0 852.7H1078.0M1078.0 848.3V857.1M1078.0 848.3H1105.0M1105.0 845.4V851.2M1105.0 845.4H1156.0M1105.0 851.2H1156.0M1078.0 857.1H1171.0M793.0 898.5H1353.0M790.0 915.9V921.8M790.0 915.9H1156.0M790.0 921.8H1156.0M788.0 933.4H1163.0M750.0 968.6H1163.0M798.0 974.5V992.1M798.0 974.5H1308.0M798.0 980.4H1300.0M798.0 986.2H1300.0M798.0 992.1H1429.0M803.0 1009.8H1383.0M930.0 1047.7V1062.2M930.0 1047.7H1002.0M1002.0 1038.9V1056.4M1002.0 1038.9H1013.0M1013.0 1030.2V1047.7M1013.0 1030.2H1037.0M1037.0 1024.4V1036.0M1037.0 1024.4H1301.0M1301.0 1021.5V1027.3M1301.0 1021.5H1383.0M1301.0 1027.3H1376.0M1037.0 1036.0H1055.0M1055.0 1033.1V1038.9M1055.0 1033.1H1284.0M1055.0 1038.9H1140.0M1013.0 1047.7H1033.0M1033.0 1044.8V1050.6M1033.0 1044.8H1407.0M1033.0 1050.6H1201.0M1002.0 1056.4H1353.0M930.0 1062.2H966.0M960.0 1085.9V1100.2M960.0 1085.9H976.0M976.0 1080.4V1091.4M976.0 1080.4H988.0M988.0 1075.3V1085.6M988.0 1075.3H1108.0M1108.0 1070.9V1079.7M1108.0 1070.9H1227.0M1227.0 1068.0V1073.9M1227.0 1068.0H1368.0M1227.0 1073.9H1376.0M1108.0 1079.7H1247.0M988.0 1085.6H1148.0M976.0 1091.4H1269.0M960.0 1100.2H995.0M995.0 1097.3V1103.1M995.0 1097.3H1171.0M995.0 1103.1H1171.0M795.0 1138.0H1254.0M983.0 1149.6V1155.4M983.0 1149.6H1163.0M983.0 1155.4H1156.0M795.0 1184.5H1254.0M800.0 1213.7H1269.0M795.0 1231.3H1322.0M787.0 1266.3H1352.0M797.0 1301.5H1307.0M1055.0 1313.2V1319.1M1055.0 1313.2H1254.0M1055.0 1319.1H1254.0M930.0 2441.5V2447.3M930.0 2441.5H1155.0M930.0 2447.3H1117.5M686.5 2871.0V2877.0M686.5 2877.0H1091.6" stroke="#b716f7" stroke-width="2.7" stroke-linecap="square" fill="none"/>
<path d="M1072.0 97.7H1125.0M854.0 2448.8V2459.0M882.5 2453.2H1018.5M854.0 2459.0H889.0M686.5 2871.0H1326.6" stroke="#00ec82" stroke-width="2.7" stroke-linecap="square" fill="none"/>
<path d="M25 2906.5H43" stroke="#000" stroke-width="2.3" fill="none"/>
<g fill="#000"><ellipse cx="1809.4" cy="103.5" rx="4.5" ry="5.4"/><ellipse cx="1695.4" cy="109.4" rx="4.5" ry="5.4"/><ellipse cx="1262.4" cy="115.2" rx="4.5" ry="5.4"/><ellipse cx="1331.4" cy="121.1" rx="4.5" ry="5.4"/><ellipse cx="1186.4" cy="126.9" rx="4.5" ry="5.4"/><ellipse cx="1034.4" cy="179.6" rx="4.5" ry="5.4"/><ellipse cx="1338.4" cy="185.5" rx="4.5" ry="5.4"/><ellipse cx="1474.4" cy="197.3" rx="4.5" ry="5.4"/><ellipse cx="1626.4" cy="203.2" rx="4.5" ry="5.4"/><ellipse cx="1771.4" cy="238.5" rx="4.5" ry="5.4"/><ellipse cx="1794.4" cy="244.2" rx="4.5" ry="5.4"/><ellipse cx="1338.4" cy="249.9" rx="4.5" ry="5.4"/><ellipse cx="1436.4" cy="255.7" rx="4.5" ry="5.4"/><ellipse cx="1338.4" cy="261.4" rx="4.5" ry="5.4"/><ellipse cx="1391.4" cy="267.1" rx="4.5" ry="5.4"/><ellipse cx="1117.4" cy="272.8" rx="4.5" ry="5.4"/><ellipse cx="882.4" cy="284.3" rx="4.5" ry="5.4"/><ellipse cx="1634.4" cy="290.0" rx="4.5" ry="5.4"/><ellipse cx="1391.4" cy="295.9" rx="4.5" ry="5.4"/><ellipse cx="1330.4" cy="307.6" rx="4.5" ry="5.4"/><ellipse cx="1216.4" cy="313.4" rx="4.5" ry="5.4"/><ellipse cx="1474.4" cy="319.3" rx="4.5" ry="5.4"/><ellipse cx="1276.4" cy="325.1" rx="4.5" ry="5.4"/><ellipse cx="1080.4" cy="331.0" rx="4.5" ry="5.4"/><ellipse cx="1194.4" cy="348.6" rx="4.5" ry="5.4"/><ellipse cx="1276.4" cy="354.4" rx="4.5" ry="5.4"/><ellipse cx="1589.4" cy="372.0" rx="4.5" ry="5.4"/><ellipse cx="1125.4" cy="377.9" rx="4.5" ry="5.4"/><ellipse cx="1156.4" cy="383.8" rx="4.5" ry="5.4"/><ellipse cx="1011.4" cy="389.6" rx="4.5" ry="5.4"/><ellipse cx="1223.4" cy="407.2" rx="4.5" ry="5.4"/><ellipse cx="889.4" cy="413.1" rx="4.5" ry="5.4"/><ellipse cx="1771.4" cy="419.0" rx="4.5" ry="5.4"/><ellipse cx="1231.4" cy="424.8" rx="4.5" ry="5.4"/><ellipse cx="1490.4" cy="430.7" rx="4.5" ry="5.4"/><ellipse cx="1125.4" cy="436.5" rx="4.5" ry="5.4"/><ellipse cx="950.4" cy="442.3" rx="4.5" ry="5.4"/><ellipse cx="1436.4" cy="448.2" rx="4.5" ry="5.4"/><ellipse cx="1527.4" cy="454.0" rx="4.5" ry="5.4"/><ellipse cx="1337.4" cy="459.8" rx="4.5" ry="5.4"/><ellipse cx="1269.4" cy="465.7" rx="4.5" ry="5.4"/><ellipse cx="1223.4" cy="494.8" rx="4.5" ry="5.4"/><ellipse cx="1656.4" cy="524.0" rx="4.5" ry="5.4"/><ellipse cx="1300.4" cy="535.7" rx="4.5" ry="5.4"/><ellipse cx="1292.4" cy="541.5" rx="4.5" ry="5.4"/><ellipse cx="1094.4" cy="559.1" rx="4.5" ry="5.4"/><ellipse cx="1041.4" cy="570.8" rx="4.5" ry="5.4"/><ellipse cx="1209.4" cy="576.6" rx="4.5" ry="5.4"/><ellipse cx="1269.4" cy="611.7" rx="4.5" ry="5.4"/><ellipse cx="1269.4" cy="629.3" rx="4.5" ry="5.4"/><ellipse cx="1193.4" cy="635.1" rx="4.5" ry="5.4"/><ellipse cx="1550.4" cy="641.0" rx="4.5" ry="5.4"/><ellipse cx="1087.4" cy="646.5" rx="4.5" ry="5.4"/><ellipse cx="874.4" cy="723.0" rx="4.5" ry="5.4"/><ellipse cx="1338.4" cy="729.0" rx="4.5" ry="5.4"/><ellipse cx="1346.4" cy="734.8" rx="4.5" ry="5.4"/><ellipse cx="1125.4" cy="746.4" rx="4.5" ry="5.4"/><ellipse cx="1331.4" cy="752.2" rx="4.5" ry="5.4"/><ellipse cx="1414.4" cy="758.0" rx="4.5" ry="5.4"/><ellipse cx="1110.4" cy="763.8" rx="4.5" ry="5.4"/><ellipse cx="1102.4" cy="769.5" rx="4.5" ry="5.4"/><ellipse cx="1072.4" cy="775.2" rx="4.5" ry="5.4"/><ellipse cx="1195.4" cy="781.0" rx="4.5" ry="5.4"/><ellipse cx="897.4" cy="786.8" rx="4.5" ry="5.4"/><ellipse cx="1156.4" cy="804.2" rx="4.5" ry="5.4"/><ellipse cx="1087.4" cy="810.1" rx="4.5" ry="5.4"/><ellipse cx="1269.4" cy="863.0" rx="4.5" ry="5.4"/><ellipse cx="1368.4" cy="868.9" rx="4.5" ry="5.4"/><ellipse cx="1399.4" cy="874.9" rx="4.5" ry="5.4"/><ellipse cx="1497.4" cy="880.8" rx="4.5" ry="5.4"/><ellipse cx="1429.4" cy="886.8" rx="4.5" ry="5.4"/><ellipse cx="1110.4" cy="892.7" rx="4.5" ry="5.4"/><ellipse cx="1049.4" cy="904.3" rx="4.5" ry="5.4"/><ellipse cx="1118.4" cy="910.1" rx="4.5" ry="5.4"/><ellipse cx="1033.4" cy="927.6" rx="4.5" ry="5.4"/><ellipse cx="1079.4" cy="939.2" rx="4.5" ry="5.4"/><ellipse cx="1407.4" cy="945.0" rx="4.5" ry="5.4"/><ellipse cx="1110.4" cy="950.9" rx="4.5" ry="5.4"/><ellipse cx="1535.4" cy="956.8" rx="4.5" ry="5.4"/><ellipse cx="1376.4" cy="962.7" rx="4.5" ry="5.4"/><ellipse cx="1018.4" cy="998.0" rx="4.5" ry="5.4"/><ellipse cx="1102.4" cy="1003.9" rx="4.5" ry="5.4"/><ellipse cx="1414.4" cy="1015.7" rx="4.5" ry="5.4"/><ellipse cx="919.4" cy="1109.0" rx="4.5" ry="5.4"/><ellipse cx="1094.4" cy="1114.8" rx="4.5" ry="5.4"/><ellipse cx="1064.4" cy="1120.6" rx="4.5" ry="5.4"/><ellipse cx="1574.4" cy="1126.4" rx="4.5" ry="5.4"/><ellipse cx="1383.4" cy="1132.2" rx="4.5" ry="5.4"/><ellipse cx="1217.4" cy="1143.8" rx="4.5" ry="5.4"/><ellipse cx="859.4" cy="1161.2" rx="4.5" ry="5.4"/><ellipse cx="1695.4" cy="1167.0" rx="4.5" ry="5.4"/><ellipse cx="1315.4" cy="1172.8" rx="4.5" ry="5.4"/><ellipse cx="1118.4" cy="1178.7" rx="4.5" ry="5.4"/><ellipse cx="1171.4" cy="1190.4" rx="4.5" ry="5.4"/><ellipse cx="1315.4" cy="1196.2" rx="4.5" ry="5.4"/><ellipse cx="1307.4" cy="1202.1" rx="4.5" ry="5.4"/><ellipse cx="1041.4" cy="1207.9" rx="4.5" ry="5.4"/><ellipse cx="1558.4" cy="1219.6" rx="4.5" ry="5.4"/><ellipse cx="1178.4" cy="1225.4" rx="4.5" ry="5.4"/><ellipse cx="1315.4" cy="1237.1" rx="4.5" ry="5.4"/><ellipse cx="1019.4" cy="1242.9" rx="4.5" ry="5.4"/><ellipse cx="1118.4" cy="1248.8" rx="4.5" ry="5.4"/><ellipse cx="1307.4" cy="1254.6" rx="4.5" ry="5.4"/><ellipse cx="1148.4" cy="1260.5" rx="4.5" ry="5.4"/><ellipse cx="1049.4" cy="1272.2" rx="4.5" ry="5.4"/><ellipse cx="1764.4" cy="1278.0" rx="4.5" ry="5.4"/><ellipse cx="1148.4" cy="1283.9" rx="4.5" ry="5.4"/><ellipse cx="1223.4" cy="1289.8" rx="4.5" ry="5.4"/><ellipse cx="1003.4" cy="1295.6" rx="4.5" ry="5.4"/><ellipse cx="1291.4" cy="1307.4" rx="4.5" ry="5.4"/><ellipse cx="1566.4" cy="1325.0" rx="4.5" ry="5.4"/><ellipse cx="1421.4" cy="1331.0" rx="4.5" ry="5.4"/><ellipse cx="1702.4" cy="1337.0" rx="4.5" ry="5.4"/><ellipse cx="1840.4" cy="1343.0" rx="4.5" ry="5.4"/><ellipse cx="1490.4" cy="1349.0" rx="4.5" ry="5.4"/><ellipse cx="1764.4" cy="1355.0" rx="4.5" ry="5.4"/><ellipse cx="903.4" cy="1360.7" rx="4.5" ry="5.4"/><ellipse cx="1180.4" cy="1367.0" rx="4.5" ry="5.4"/><ellipse cx="1254.4" cy="1372.8" rx="4.5" ry="5.4"/><ellipse cx="974.4" cy="1378.6" rx="4.5" ry="5.4"/><ellipse cx="1239.4" cy="1384.4" rx="4.5" ry="5.4"/><ellipse cx="1018.4" cy="1390.2" rx="4.5" ry="5.4"/><ellipse cx="1026.4" cy="1396.1" rx="4.5" ry="5.4"/><ellipse cx="958.4" cy="1401.9" rx="4.5" ry="5.4"/><ellipse cx="1118.4" cy="1407.7" rx="4.5" ry="5.4"/><ellipse cx="1307.4" cy="1413.5" rx="4.5" ry="5.4"/><ellipse cx="1034.4" cy="1419.2" rx="4.5" ry="5.4"/><ellipse cx="1056.4" cy="1425.0" rx="4.5" ry="5.4"/><ellipse cx="965.4" cy="1430.8" rx="4.5" ry="5.4"/><ellipse cx="1231.4" cy="1436.5" rx="4.5" ry="5.4"/><ellipse cx="1175.4" cy="1442.4" rx="4.5" ry="5.4"/><ellipse cx="1338.4" cy="1448.2" rx="4.5" ry="5.4"/><ellipse cx="1041.4" cy="1454.1" rx="4.5" ry="5.4"/><ellipse cx="1680.4" cy="1460.0" rx="4.5" ry="5.4"/><ellipse cx="1026.4" cy="1465.9" rx="4.5" ry="5.4"/><ellipse cx="1094.4" cy="1471.8" rx="4.5" ry="5.4"/><ellipse cx="1110.4" cy="1477.6" rx="4.5" ry="5.4"/><ellipse cx="1231.4" cy="1483.5" rx="4.5" ry="5.4"/><ellipse cx="912.4" cy="1489.3" rx="4.5" ry="5.4"/><ellipse cx="881.4" cy="1495.2" rx="4.5" ry="5.4"/><ellipse cx="1003.4" cy="1501.0" rx="4.5" ry="5.4"/><ellipse cx="866.4" cy="1506.8" rx="4.5" ry="5.4"/><ellipse cx="988.4" cy="1512.6" rx="4.5" ry="5.4"/><ellipse cx="1094.4" cy="1518.4" rx="4.5" ry="5.4"/><ellipse cx="896.4" cy="1524.2" rx="4.5" ry="5.4"/><ellipse cx="859.4" cy="1530.0" rx="4.5" ry="5.4"/><ellipse cx="920.4" cy="1535.8" rx="4.5" ry="5.4"/><ellipse cx="912.4" cy="1541.6" rx="4.5" ry="5.4"/><ellipse cx="958.4" cy="1547.4" rx="4.5" ry="5.4"/><ellipse cx="1180.4" cy="1553.2" rx="4.5" ry="5.4"/><ellipse cx="1665.4" cy="1559.0" rx="4.5" ry="5.4"/><ellipse cx="1080.4" cy="1565.0" rx="4.5" ry="5.4"/><ellipse cx="1436.4" cy="1571.0" rx="4.5" ry="5.4"/><ellipse cx="1071.4" cy="1576.8" rx="4.5" ry="5.4"/><ellipse cx="1733.4" cy="1582.6" rx="4.5" ry="5.4"/><ellipse cx="1163.4" cy="1588.4" rx="4.5" ry="5.4"/><ellipse cx="1277.4" cy="1594.2" rx="4.5" ry="5.4"/><ellipse cx="1049.4" cy="1600.1" rx="4.5" ry="5.4"/><ellipse cx="1140.4" cy="1605.9" rx="4.5" ry="5.4"/><ellipse cx="1019.4" cy="1611.7" rx="4.5" ry="5.4"/><ellipse cx="1482.4" cy="1617.5" rx="4.5" ry="5.4"/><ellipse cx="1003.4" cy="1623.3" rx="4.5" ry="5.4"/><ellipse cx="965.4" cy="1629.2" rx="4.5" ry="5.4"/><ellipse cx="1064.4" cy="1635.0" rx="4.5" ry="5.4"/><ellipse cx="1117.4" cy="1640.9" rx="4.5" ry="5.4"/><ellipse cx="935.4" cy="1646.8" rx="4.5" ry="5.4"/><ellipse cx="919.4" cy="1652.6" rx="4.5" ry="5.4"/><ellipse cx="965.4" cy="1658.5" rx="4.5" ry="5.4"/><ellipse cx="950.4" cy="1664.3" rx="4.5" ry="5.4"/><ellipse cx="919.4" cy="1670.2" rx="4.5" ry="5.4"/><ellipse cx="1208.4" cy="1676.0" rx="4.5" ry="5.4"/><ellipse cx="1132.4" cy="1681.9" rx="4.5" ry="5.4"/><ellipse cx="1041.4" cy="1687.7" rx="4.5" ry="5.4"/><ellipse cx="1094.4" cy="1693.6" rx="4.5" ry="5.4"/><ellipse cx="1026.4" cy="1699.4" rx="4.5" ry="5.4"/><ellipse cx="1079.9" cy="1705.3" rx="4.5" ry="5.4"/><ellipse cx="1292.9" cy="1711.1" rx="4.5" ry="5.4"/><ellipse cx="1596.4" cy="1717.0" rx="4.5" ry="5.4"/><ellipse cx="1308.4" cy="1722.9" rx="4.5" ry="5.4"/><ellipse cx="1254.9" cy="1728.8" rx="4.5" ry="5.4"/><ellipse cx="1224.0" cy="1734.6" rx="4.5" ry="5.4"/><ellipse cx="1041.4" cy="1740.5" rx="4.5" ry="5.4"/><ellipse cx="1178.4" cy="1746.4" rx="4.5" ry="5.4"/><ellipse cx="1102.4" cy="1752.2" rx="4.5" ry="5.4"/><ellipse cx="1094.4" cy="1758.1" rx="4.5" ry="5.4"/><ellipse cx="965.4" cy="1764.0" rx="4.5" ry="5.4"/><ellipse cx="1186.0" cy="1769.9" rx="4.5" ry="5.4"/><ellipse cx="1064.4" cy="1775.8" rx="4.5" ry="5.4"/><ellipse cx="1117.9" cy="1781.6" rx="4.5" ry="5.4"/><ellipse cx="1216.4" cy="1787.5" rx="4.5" ry="5.4"/><ellipse cx="1087.4" cy="1793.3" rx="4.5" ry="5.4"/><ellipse cx="1109.9" cy="1799.1" rx="4.5" ry="5.4"/><ellipse cx="1094.4" cy="1804.9" rx="4.5" ry="5.4"/><ellipse cx="843.4" cy="1810.7" rx="4.5" ry="5.4"/><ellipse cx="1270.4" cy="1816.5" rx="4.5" ry="5.4"/><ellipse cx="1315.4" cy="1822.2" rx="4.5" ry="5.4"/><ellipse cx="1019.4" cy="1827.8" rx="4.5" ry="5.4"/><ellipse cx="1391.4" cy="1833.5" rx="4.5" ry="5.4"/><ellipse cx="1375.4" cy="1839.4" rx="4.5" ry="5.4"/><ellipse cx="1170.4" cy="1845.3" rx="4.5" ry="5.4"/><ellipse cx="1345.4" cy="1851.2" rx="4.5" ry="5.4"/><ellipse cx="1262.4" cy="1857.1" rx="4.5" ry="5.4"/><ellipse cx="1451.9" cy="1863.0" rx="4.5" ry="5.4"/><ellipse cx="1383.9" cy="1868.9" rx="4.5" ry="5.4"/><ellipse cx="1308.4" cy="1874.7" rx="4.5" ry="5.4"/><ellipse cx="1232.4" cy="1880.6" rx="4.5" ry="5.4"/><ellipse cx="1315.4" cy="1886.4" rx="4.5" ry="5.4"/><ellipse cx="1019.4" cy="1892.3" rx="4.5" ry="5.4"/><ellipse cx="1049.4" cy="1898.1" rx="4.5" ry="5.4"/><ellipse cx="1497.9" cy="1904.0" rx="4.5" ry="5.4"/><ellipse cx="1247.4" cy="1909.8" rx="4.5" ry="5.4"/><ellipse cx="1003.4" cy="1915.6" rx="4.5" ry="5.4"/><ellipse cx="1019.4" cy="1921.4" rx="4.5" ry="5.4"/><ellipse cx="980.4" cy="1927.2" rx="4.5" ry="5.4"/><ellipse cx="1071.9" cy="1933.0" rx="4.5" ry="5.4"/><ellipse cx="1194.4" cy="1939.0" rx="4.5" ry="5.4"/><ellipse cx="1360.4" cy="1945.0" rx="4.5" ry="5.4"/><ellipse cx="1262.4" cy="1951.0" rx="4.5" ry="5.4"/><ellipse cx="1581.4" cy="1957.0" rx="4.5" ry="5.4"/><ellipse cx="1641.9" cy="1962.7" rx="4.5" ry="5.4"/><ellipse cx="919.4" cy="1968.4" rx="4.5" ry="5.4"/><ellipse cx="965.4" cy="1974.1" rx="4.5" ry="5.4"/><ellipse cx="1034.4" cy="1979.9" rx="4.5" ry="5.4"/><ellipse cx="935.4" cy="1985.6" rx="4.5" ry="5.4"/><ellipse cx="866.4" cy="1991.3" rx="4.5" ry="5.4"/><ellipse cx="1170.4" cy="1997.0" rx="4.5" ry="5.4"/><ellipse cx="1778.9" cy="2002.9" rx="4.5" ry="5.4"/><ellipse cx="1163.4" cy="2008.8" rx="4.5" ry="5.4"/><ellipse cx="1512.9" cy="2014.6" rx="4.5" ry="5.4"/><ellipse cx="1087.4" cy="2020.5" rx="4.5" ry="5.4"/><ellipse cx="1003.4" cy="2026.4" rx="4.5" ry="5.4"/><ellipse cx="1170.4" cy="2032.2" rx="4.5" ry="5.4"/><ellipse cx="942.4" cy="2038.1" rx="4.5" ry="5.4"/><ellipse cx="1695.4" cy="2044.0" rx="4.5" ry="5.4"/><ellipse cx="1345.4" cy="2049.9" rx="4.5" ry="5.4"/><ellipse cx="1270.4" cy="2055.8" rx="4.5" ry="5.4"/><ellipse cx="1178.4" cy="2061.7" rx="4.5" ry="5.4"/><ellipse cx="1079.9" cy="2067.6" rx="4.5" ry="5.4"/><ellipse cx="1094.4" cy="2073.5" rx="4.5" ry="5.4"/><ellipse cx="1003.4" cy="2079.5" rx="4.5" ry="5.4"/><ellipse cx="942.4" cy="2085.4" rx="4.5" ry="5.4"/><ellipse cx="1170.4" cy="2091.3" rx="4.5" ry="5.4"/><ellipse cx="1170.4" cy="2097.2" rx="4.5" ry="5.4"/><ellipse cx="904.4" cy="2103.1" rx="4.5" ry="5.4"/><ellipse cx="957.4" cy="2109.0" rx="4.5" ry="5.4"/><ellipse cx="1087.4" cy="2114.8" rx="4.5" ry="5.4"/><ellipse cx="965.4" cy="2120.6" rx="4.5" ry="5.4"/><ellipse cx="950.4" cy="2126.3" rx="4.5" ry="5.4"/><ellipse cx="912.4" cy="2132.1" rx="4.5" ry="5.4"/><ellipse cx="843.4" cy="2137.9" rx="4.5" ry="5.4"/><ellipse cx="1299.4" cy="2143.7" rx="4.5" ry="5.4"/><ellipse cx="912.4" cy="2149.7" rx="4.5" ry="5.4"/><ellipse cx="1041.4" cy="2155.6" rx="4.5" ry="5.4"/><ellipse cx="1147.9" cy="2161.5" rx="4.5" ry="5.4"/><ellipse cx="1224.0" cy="2167.3" rx="4.5" ry="5.4"/><ellipse cx="1049.4" cy="2173.2" rx="4.5" ry="5.4"/><ellipse cx="1186.0" cy="2179.1" rx="4.5" ry="5.4"/><ellipse cx="1079.9" cy="2185.0" rx="4.5" ry="5.4"/><ellipse cx="995.4" cy="2190.8" rx="4.5" ry="5.4"/><ellipse cx="1170.4" cy="2196.7" rx="4.5" ry="5.4"/><ellipse cx="1246.9" cy="2202.6" rx="4.5" ry="5.4"/><ellipse cx="980.4" cy="2208.5" rx="4.5" ry="5.4"/><ellipse cx="866.4" cy="2214.4" rx="4.5" ry="5.4"/><ellipse cx="1064.4" cy="2220.2" rx="4.5" ry="5.4"/><ellipse cx="889.4" cy="2226.1" rx="4.5" ry="5.4"/><ellipse cx="1436.9" cy="2232.0" rx="4.5" ry="5.4"/><ellipse cx="1209.4" cy="2237.8" rx="4.5" ry="5.4"/><ellipse cx="1429.4" cy="2243.7" rx="4.5" ry="5.4"/><ellipse cx="1102.9" cy="2249.5" rx="4.5" ry="5.4"/><ellipse cx="1482.9" cy="2255.3" rx="4.5" ry="5.4"/><ellipse cx="1383.9" cy="2261.2" rx="4.5" ry="5.4"/><ellipse cx="1003.9" cy="2267.0" rx="4.5" ry="5.4"/><ellipse cx="1162.9" cy="2272.8" rx="4.5" ry="5.4"/><ellipse cx="1003.4" cy="2278.7" rx="4.5" ry="5.4"/><ellipse cx="1011.4" cy="2284.5" rx="4.5" ry="5.4"/><ellipse cx="1269.4" cy="2290.3" rx="4.5" ry="5.4"/><ellipse cx="957.4" cy="2296.2" rx="4.5" ry="5.4"/><ellipse cx="1087.4" cy="2302.0" rx="4.5" ry="5.4"/><ellipse cx="1216.4" cy="2308.0" rx="4.5" ry="5.4"/><ellipse cx="1056.9" cy="2313.8" rx="4.5" ry="5.4"/><ellipse cx="1170.4" cy="2319.6" rx="4.5" ry="5.4"/><ellipse cx="1056.9" cy="2325.3" rx="4.5" ry="5.4"/><ellipse cx="1033.9" cy="2331.1" rx="4.5" ry="5.4"/><ellipse cx="1033.9" cy="2336.9" rx="4.5" ry="5.4"/><ellipse cx="1254.4" cy="2342.7" rx="4.5" ry="5.4"/><ellipse cx="1110.4" cy="2348.4" rx="4.5" ry="5.4"/><ellipse cx="1307.9" cy="2354.2" rx="4.5" ry="5.4"/><ellipse cx="1216.4" cy="2360.0" rx="4.5" ry="5.4"/><ellipse cx="1239.4" cy="2365.8" rx="4.5" ry="5.4"/><ellipse cx="1254.4" cy="2371.6" rx="4.5" ry="5.4"/><ellipse cx="973.4" cy="2377.5" rx="4.5" ry="5.4"/><ellipse cx="957.4" cy="2383.3" rx="4.5" ry="5.4"/><ellipse cx="980.4" cy="2389.1" rx="4.5" ry="5.4"/><ellipse cx="896.4" cy="2394.9" rx="4.5" ry="5.4"/><ellipse cx="1110.4" cy="2400.7" rx="4.5" ry="5.4"/><ellipse cx="1170.4" cy="2406.5" rx="4.5" ry="5.4"/><ellipse cx="1033.9" cy="2412.4" rx="4.5" ry="5.4"/><ellipse cx="1026.4" cy="2418.2" rx="4.5" ry="5.4"/><ellipse cx="1292.9" cy="2424.0" rx="4.5" ry="5.4"/><ellipse cx="995.4" cy="2429.8" rx="4.5" ry="5.4"/><ellipse cx="1071.9" cy="2435.7" rx="4.5" ry="5.4"/><ellipse cx="638.4" cy="2465.0" rx="4.5" ry="5.4"/><ellipse cx="1763.9" cy="2471.5" rx="4.5" ry="5.4"/><ellipse cx="1778.9" cy="2477.3" rx="4.5" ry="5.4"/><ellipse cx="1581.4" cy="2483.2" rx="4.5" ry="5.4"/><ellipse cx="1482.9" cy="2489.0" rx="4.5" ry="5.4"/><ellipse cx="1376.4" cy="2494.8" rx="4.5" ry="5.4"/><ellipse cx="1102.9" cy="2500.7" rx="4.5" ry="5.4"/><ellipse cx="1239.4" cy="2506.5" rx="4.5" ry="5.4"/><ellipse cx="1186.9" cy="2512.3" rx="4.5" ry="5.4"/><ellipse cx="1087.4" cy="2518.2" rx="4.5" ry="5.4"/><ellipse cx="988.4" cy="2524.0" rx="4.5" ry="5.4"/><ellipse cx="950.4" cy="2529.8" rx="4.5" ry="5.4"/><ellipse cx="1003.4" cy="2535.7" rx="4.5" ry="5.4"/><ellipse cx="1307.9" cy="2541.5" rx="4.5" ry="5.4"/><ellipse cx="1087.4" cy="2547.3" rx="4.5" ry="5.4"/><ellipse cx="1140.9" cy="2553.2" rx="4.5" ry="5.4"/><ellipse cx="1505.4" cy="2559.0" rx="4.5" ry="5.4"/><ellipse cx="1026.4" cy="2564.8" rx="4.5" ry="5.4"/><ellipse cx="1064.4" cy="2570.7" rx="4.5" ry="5.4"/><ellipse cx="897.4" cy="2576.6" rx="4.5" ry="5.4"/><ellipse cx="1223.9" cy="2582.4" rx="4.5" ry="5.4"/><ellipse cx="1094.9" cy="2588.2" rx="4.5" ry="5.4"/><ellipse cx="1018.4" cy="2594.1" rx="4.5" ry="5.4"/><ellipse cx="1026.4" cy="2599.9" rx="4.5" ry="5.4"/><ellipse cx="1110.4" cy="2605.8" rx="4.5" ry="5.4"/><ellipse cx="950.4" cy="2611.7" rx="4.5" ry="5.4"/><ellipse cx="1079.4" cy="2617.5" rx="4.5" ry="5.4"/><ellipse cx="980.4" cy="2623.5" rx="4.5" ry="5.4"/><ellipse cx="1110.4" cy="2629.4" rx="4.5" ry="5.4"/><ellipse cx="1337.9" cy="2635.4" rx="4.5" ry="5.4"/><ellipse cx="1140.4" cy="2641.3" rx="4.5" ry="5.4"/><ellipse cx="851.4" cy="2647.2" rx="4.5" ry="5.4"/><ellipse cx="843.4" cy="2653.1" rx="4.5" ry="5.4"/><ellipse cx="1049.4" cy="2659.1" rx="4.5" ry="5.4"/><ellipse cx="1315.4" cy="2665.0" rx="4.5" ry="5.4"/><ellipse cx="1056.9" cy="2670.8" rx="4.5" ry="5.4"/><ellipse cx="1011.4" cy="2676.6" rx="4.5" ry="5.4"/><ellipse cx="843.4" cy="2682.4" rx="4.5" ry="5.4"/><ellipse cx="836.4" cy="2688.2" rx="4.5" ry="5.4"/><ellipse cx="897.4" cy="2694.0" rx="4.5" ry="5.4"/><ellipse cx="1102.9" cy="2701.0" rx="4.5" ry="5.4"/><ellipse cx="995.9" cy="2706.9" rx="4.5" ry="5.4"/><ellipse cx="904.4" cy="2712.8" rx="4.5" ry="5.4"/><ellipse cx="1079.4" cy="2718.7" rx="4.5" ry="5.4"/><ellipse cx="904.4" cy="2724.5" rx="4.5" ry="5.4"/><ellipse cx="1011.4" cy="2730.4" rx="4.5" ry="5.4"/><ellipse cx="1087.4" cy="2736.3" rx="4.5" ry="5.4"/><ellipse cx="1056.9" cy="2742.2" rx="4.5" ry="5.4"/><ellipse cx="965.4" cy="2748.1" rx="4.5" ry="5.4"/><ellipse cx="1140.9" cy="2754.0" rx="4.5" ry="5.4"/><ellipse cx="1003.4" cy="2759.8" rx="4.5" ry="5.4"/><ellipse cx="904.4" cy="2765.7" rx="4.5" ry="5.4"/><ellipse cx="828.4" cy="2771.6" rx="4.5" ry="5.4"/><ellipse cx="790.4" cy="2777.5" rx="4.5" ry="5.4"/><ellipse cx="874.4" cy="2783.3" rx="4.5" ry="5.4"/><ellipse cx="828.4" cy="2789.2" rx="4.5" ry="5.4"/><ellipse cx="630.4" cy="2795.0" rx="4.5" ry="5.4"/><ellipse cx="737.4" cy="2800.8" rx="4.5" ry="5.4"/><ellipse cx="676.4" cy="2806.5" rx="4.5" ry="5.4"/><ellipse cx="770.4" cy="2812.2" rx="4.5" ry="5.4"/><ellipse cx="717.4" cy="2818.0" rx="4.5" ry="5.4"/><ellipse cx="610.4" cy="2824.0" rx="4.5" ry="5.4"/><ellipse cx="618.4" cy="2829.9" rx="4.5" ry="5.4"/><ellipse cx="679.4" cy="2835.8" rx="4.5" ry="5.4"/><ellipse cx="625.9" cy="2841.8" rx="4.5" ry="5.4"/><ellipse cx="664.4" cy="2847.7" rx="4.5" ry="5.4"/><ellipse cx="664.4" cy="2853.6" rx="4.5" ry="5.4"/><ellipse cx="686.4" cy="2859.5" rx="4.5" ry="5.4"/><ellipse cx="501.9" cy="2866.0" rx="4.5" ry="5.4"/><ellipse cx="612.9" cy="2883.0" rx="4.5" ry="5.4"/><ellipse cx="833.9" cy="2889.0" rx="4.5" ry="5.4"/><ellipse cx="765.9" cy="2894.9" rx="4.5" ry="5.4"/><ellipse cx="895.4" cy="2900.8" rx="4.5" ry="5.4"/><ellipse cx="940.9" cy="2906.7" rx="4.5" ry="5.4"/><ellipse cx="932.9" cy="2912.6" rx="4.5" ry="5.4"/><ellipse cx="833.9" cy="2918.5" rx="4.5" ry="5.4"/><ellipse cx="780.4" cy="2924.5" rx="4.5" ry="5.4"/><ellipse cx="369.4" cy="2930.4" rx="4.5" ry="5.4"/><ellipse cx="818.4" cy="2936.3" rx="4.5" ry="5.4"/><ellipse cx="856.4" cy="2942.2" rx="4.5" ry="5.4"/><ellipse cx="795.9" cy="2948.1" rx="4.5" ry="5.4"/><ellipse cx="339.4" cy="2954.0" rx="4.5" ry="5.4"/><ellipse cx="499.4" cy="2959.8" rx="4.5" ry="5.4"/><ellipse cx="423.4" cy="2965.6" rx="4.5" ry="5.4"/><ellipse cx="355.4" cy="2971.4" rx="4.5" ry="5.4"/><ellipse cx="377.9" cy="2977.2" rx="4.5" ry="5.4"/><ellipse cx="948.1" cy="2983.0" rx="4.5" ry="5.4"/><ellipse cx="795.9" cy="2989.0" rx="4.5" ry="5.4"/><ellipse cx="727.9" cy="2995.0" rx="4.5" ry="5.4"/><ellipse cx="787.9" cy="3001.0" rx="4.5" ry="5.4"/><ellipse cx="765.9" cy="3006.8" rx="4.5" ry="5.4"/><ellipse cx="628.4" cy="3012.7" rx="4.5" ry="5.4"/><ellipse cx="697.4" cy="3018.5" rx="4.5" ry="5.4"/><ellipse cx="605.9" cy="3024.3" rx="4.5" ry="5.4"/><ellipse cx="628.4" cy="3030.2" rx="4.5" ry="5.4"/><ellipse cx="400.4" cy="3036.0" rx="4.5" ry="5.4"/><ellipse cx="620.4" cy="3042.0" rx="4.5" ry="5.4"/><ellipse cx="750.4" cy="3048.0" rx="4.5" ry="5.4"/><ellipse cx="666.4" cy="3054.0" rx="4.5" ry="5.4"/><ellipse cx="316.4" cy="3060.0" rx="4.5" ry="5.4"/><ellipse cx="362.9" cy="3065.8" rx="4.5" ry="5.4"/><ellipse cx="316.4" cy="3071.5" rx="4.5" ry="5.4"/></g>
<g fill="#b716f7"><ellipse cx="1345.4" cy="62.7" rx="4.5" ry="5.4"/><ellipse cx="1352.4" cy="68.5" rx="4.5" ry="5.4"/><ellipse cx="1406.4" cy="74.4" rx="4.5" ry="5.4"/><ellipse cx="1171.4" cy="80.2" rx="4.5" ry="5.4"/><ellipse cx="1202.4" cy="86.0" rx="4.5" ry="5.4"/><ellipse cx="1202.4" cy="91.8" rx="4.5" ry="5.4"/><ellipse cx="1171.4" cy="132.8" rx="4.5" ry="5.4"/><ellipse cx="1406.4" cy="138.6" rx="4.5" ry="5.4"/><ellipse cx="1163.4" cy="144.5" rx="4.5" ry="5.4"/><ellipse cx="1171.4" cy="150.4" rx="4.5" ry="5.4"/><ellipse cx="1170.4" cy="156.2" rx="4.5" ry="5.4"/><ellipse cx="1352.4" cy="162.1" rx="4.5" ry="5.4"/><ellipse cx="1300.4" cy="167.9" rx="4.5" ry="5.4"/><ellipse cx="1270.4" cy="173.8" rx="4.5" ry="5.4"/><ellipse cx="1376.4" cy="191.4" rx="4.5" ry="5.4"/><ellipse cx="1201.4" cy="209.1" rx="4.5" ry="5.4"/><ellipse cx="1156.4" cy="214.9" rx="4.5" ry="5.4"/><ellipse cx="1254.4" cy="220.8" rx="4.5" ry="5.4"/><ellipse cx="1171.4" cy="226.7" rx="4.5" ry="5.4"/><ellipse cx="1254.4" cy="232.6" rx="4.5" ry="5.4"/><ellipse cx="1436.4" cy="278.6" rx="4.5" ry="5.4"/><ellipse cx="1254.4" cy="301.7" rx="4.5" ry="5.4"/><ellipse cx="1414.4" cy="336.9" rx="4.5" ry="5.4"/><ellipse cx="1436.4" cy="342.7" rx="4.5" ry="5.4"/><ellipse cx="1398.4" cy="360.3" rx="4.5" ry="5.4"/><ellipse cx="1414.4" cy="366.1" rx="4.5" ry="5.4"/><ellipse cx="1352.4" cy="395.5" rx="4.5" ry="5.4"/><ellipse cx="1254.4" cy="401.4" rx="4.5" ry="5.4"/><ellipse cx="1156.4" cy="471.5" rx="4.5" ry="5.4"/><ellipse cx="1375.4" cy="477.3" rx="4.5" ry="5.4"/><ellipse cx="1352.4" cy="483.2" rx="4.5" ry="5.4"/><ellipse cx="1375.4" cy="489.0" rx="4.5" ry="5.4"/><ellipse cx="1201.4" cy="500.7" rx="4.5" ry="5.4"/><ellipse cx="1163.4" cy="506.5" rx="4.5" ry="5.4"/><ellipse cx="1171.4" cy="512.3" rx="4.5" ry="5.4"/><ellipse cx="1269.4" cy="518.2" rx="4.5" ry="5.4"/><ellipse cx="1300.4" cy="529.8" rx="4.5" ry="5.4"/><ellipse cx="1300.4" cy="547.4" rx="4.5" ry="5.4"/><ellipse cx="1163.4" cy="553.2" rx="4.5" ry="5.4"/><ellipse cx="1171.4" cy="564.9" rx="4.5" ry="5.4"/><ellipse cx="1254.4" cy="582.5" rx="4.5" ry="5.4"/><ellipse cx="1376.4" cy="588.3" rx="4.5" ry="5.4"/><ellipse cx="1163.4" cy="594.2" rx="4.5" ry="5.4"/><ellipse cx="1376.4" cy="600.0" rx="4.5" ry="5.4"/><ellipse cx="1383.4" cy="605.9" rx="4.5" ry="5.4"/><ellipse cx="1353.4" cy="617.6" rx="4.5" ry="5.4"/><ellipse cx="1171.4" cy="623.4" rx="4.5" ry="5.4"/><ellipse cx="1346.4" cy="652.0" rx="4.5" ry="5.4"/><ellipse cx="1414.4" cy="657.9" rx="4.5" ry="5.4"/><ellipse cx="1376.4" cy="663.8" rx="4.5" ry="5.4"/><ellipse cx="1429.4" cy="669.8" rx="4.5" ry="5.4"/><ellipse cx="1383.4" cy="675.7" rx="4.5" ry="5.4"/><ellipse cx="1376.4" cy="681.6" rx="4.5" ry="5.4"/><ellipse cx="1254.4" cy="687.5" rx="4.5" ry="5.4"/><ellipse cx="1163.4" cy="693.4" rx="4.5" ry="5.4"/><ellipse cx="1201.4" cy="699.3" rx="4.5" ry="5.4"/><ellipse cx="1156.4" cy="705.2" rx="4.5" ry="5.4"/><ellipse cx="1239.4" cy="711.2" rx="4.5" ry="5.4"/><ellipse cx="1118.4" cy="717.1" rx="4.5" ry="5.4"/><ellipse cx="1171.4" cy="740.6" rx="4.5" ry="5.4"/><ellipse cx="1429.4" cy="792.5" rx="4.5" ry="5.4"/><ellipse cx="1414.4" cy="798.4" rx="4.5" ry="5.4"/><ellipse cx="1437.4" cy="816.0" rx="4.5" ry="5.4"/><ellipse cx="1353.4" cy="821.9" rx="4.5" ry="5.4"/><ellipse cx="1171.4" cy="827.8" rx="4.5" ry="5.4"/><ellipse cx="1163.4" cy="833.6" rx="4.5" ry="5.4"/><ellipse cx="1163.4" cy="839.5" rx="4.5" ry="5.4"/><ellipse cx="1156.4" cy="845.4" rx="4.5" ry="5.4"/><ellipse cx="1156.4" cy="851.2" rx="4.5" ry="5.4"/><ellipse cx="1171.4" cy="857.1" rx="4.5" ry="5.4"/><ellipse cx="1353.4" cy="898.5" rx="4.5" ry="5.4"/><ellipse cx="1156.4" cy="915.9" rx="4.5" ry="5.4"/><ellipse cx="1156.4" cy="921.8" rx="4.5" ry="5.4"/><ellipse cx="1163.4" cy="933.4" rx="4.5" ry="5.4"/><ellipse cx="1163.4" cy="968.6" rx="4.5" ry="5.4"/><ellipse cx="1308.4" cy="974.5" rx="4.5" ry="5.4"/><ellipse cx="1300.4" cy="980.4" rx="4.5" ry="5.4"/><ellipse cx="1300.4" cy="986.2" rx="4.5" ry="5.4"/><ellipse cx="1429.4" cy="992.1" rx="4.5" ry="5.4"/><ellipse cx="1383.4" cy="1009.8" rx="4.5" ry="5.4"/><ellipse cx="1383.4" cy="1021.5" rx="4.5" ry="5.4"/><ellipse cx="1376.4" cy="1027.3" rx="4.5" ry="5.4"/><ellipse cx="1284.4" cy="1033.1" rx="4.5" ry="5.4"/><ellipse cx="1140.4" cy="1038.9" rx="4.5" ry="5.4"/><ellipse cx="1407.4" cy="1044.8" rx="4.5" ry="5.4"/><ellipse cx="1201.4" cy="1050.6" rx="4.5" ry="5.4"/><ellipse cx="1353.4" cy="1056.4" rx="4.5" ry="5.4"/><ellipse cx="966.4" cy="1062.2" rx="4.5" ry="5.4"/><ellipse cx="1368.4" cy="1068.0" rx="4.5" ry="5.4"/><ellipse cx="1376.4" cy="1073.9" rx="4.5" ry="5.4"/><ellipse cx="1247.4" cy="1079.7" rx="4.5" ry="5.4"/><ellipse cx="1148.4" cy="1085.6" rx="4.5" ry="5.4"/><ellipse cx="1269.4" cy="1091.4" rx="4.5" ry="5.4"/><ellipse cx="1171.4" cy="1097.3" rx="4.5" ry="5.4"/><ellipse cx="1171.4" cy="1103.1" rx="4.5" ry="5.4"/><ellipse cx="1254.4" cy="1138.0" rx="4.5" ry="5.4"/><ellipse cx="1163.4" cy="1149.6" rx="4.5" ry="5.4"/><ellipse cx="1156.4" cy="1155.4" rx="4.5" ry="5.4"/><ellipse cx="1254.4" cy="1184.5" rx="4.5" ry="5.4"/><ellipse cx="1269.4" cy="1213.7" rx="4.5" ry="5.4"/><ellipse cx="1322.4" cy="1231.3" rx="4.5" ry="5.4"/><ellipse cx="1352.4" cy="1266.3" rx="4.5" ry="5.4"/><ellipse cx="1307.4" cy="1301.5" rx="4.5" ry="5.4"/><ellipse cx="1254.4" cy="1313.2" rx="4.5" ry="5.4"/><ellipse cx="1254.4" cy="1319.1" rx="4.5" ry="5.4"/><ellipse cx="1155.4" cy="2441.5" rx="4.5" ry="5.4"/><ellipse cx="1117.9" cy="2447.3" rx="4.5" ry="5.4"/><ellipse cx="1092.0" cy="2877.0" rx="4.5" ry="5.4"/></g>
<g fill="#00ec82"><ellipse cx="1125.4" cy="97.7" rx="4.5" ry="5.4"/><ellipse cx="1018.9" cy="2453.2" rx="4.5" ry="5.4"/><ellipse cx="889.4" cy="2459.0" rx="4.5" ry="5.4"/><ellipse cx="1327.0" cy="2871.0" rx="4.5" ry="5.4"/></g>
<path d="M1877.0 55.7L1878.7 60.4L1883.7 60.5L1879.8 63.6L1881.1 68.4L1877.0 65.6L1872.9 68.4L1874.2 63.6L1870.3 60.5L1875.3 60.4ZM1877.0 61.5L1878.7 66.2L1883.7 66.4L1879.8 69.4L1881.1 74.2L1877.0 71.4L1872.9 74.2L1874.2 69.4L1870.3 66.4L1875.3 66.2ZM1877.0 67.4L1878.7 72.0L1883.7 72.2L1879.8 75.3L1881.1 80.0L1877.0 77.3L1872.9 80.0L1874.2 75.3L1870.3 72.2L1875.3 72.0ZM1877.0 73.2L1878.7 77.8L1883.7 78.0L1879.8 81.1L1881.1 85.8L1877.0 83.1L1872.9 85.8L1874.2 81.1L1870.3 78.0L1875.3 77.8ZM1877.0 79.0L1878.7 83.7L1883.7 83.9L1879.8 86.9L1881.1 91.7L1877.0 88.9L1872.9 91.7L1874.2 86.9L1870.3 83.9L1875.3 83.7ZM1877.0 84.8L1878.7 89.5L1883.7 89.7L1879.8 92.7L1881.1 97.5L1877.0 94.7L1872.9 97.5L1874.2 92.7L1870.3 89.7L1875.3 89.5ZM1877.0 125.8L1878.7 130.4L1883.7 130.6L1879.8 133.7L1881.1 138.4L1877.0 135.7L1872.9 138.4L1874.2 133.7L1870.3 130.6L1875.3 130.4ZM1877.0 131.6L1878.7 136.3L1883.7 136.5L1879.8 139.5L1881.1 144.3L1877.0 141.5L1872.9 144.3L1874.2 139.5L1870.3 136.5L1875.3 136.3ZM1877.0 137.5L1878.7 142.2L1883.7 142.3L1879.8 145.4L1881.1 150.2L1877.0 147.4L1872.9 150.2L1874.2 145.4L1870.3 142.3L1875.3 142.2ZM1877.0 143.4L1878.7 148.0L1883.7 148.2L1879.8 151.3L1881.1 156.0L1877.0 153.3L1872.9 156.0L1874.2 151.3L1870.3 148.2L1875.3 148.0ZM1877.0 149.2L1878.7 153.9L1883.7 154.1L1879.8 157.1L1881.1 161.9L1877.0 159.1L1872.9 161.9L1874.2 157.1L1870.3 154.1L1875.3 153.9ZM1877.0 155.1L1878.7 159.7L1883.7 159.9L1879.8 163.0L1881.1 167.7L1877.0 165.0L1872.9 167.7L1874.2 163.0L1870.3 159.9L1875.3 159.7ZM1877.0 160.9L1878.7 165.6L1883.7 165.8L1879.8 168.8L1881.1 173.6L1877.0 170.8L1872.9 173.6L1874.2 168.8L1870.3 165.8L1875.3 165.6ZM1877.0 166.8L1878.7 171.4L1883.7 171.6L1879.8 174.7L1881.1 179.4L1877.0 176.7L1872.9 179.4L1874.2 174.7L1870.3 171.6L1875.3 171.4ZM1877.0 184.4L1878.7 189.0L1883.7 189.2L1879.8 192.3L1881.1 197.1L1877.0 194.3L1872.9 197.1L1874.2 192.3L1870.3 189.2L1875.3 189.0ZM1877.0 202.1L1878.7 206.7L1883.7 206.9L1879.8 210.0L1881.1 214.7L1877.0 212.0L1872.9 214.7L1874.2 210.0L1870.3 206.9L1875.3 206.7ZM1877.0 207.9L1878.7 212.6L1883.7 212.8L1879.8 215.8L1881.1 220.6L1877.0 217.8L1872.9 220.6L1874.2 215.8L1870.3 212.8L1875.3 212.6ZM1877.0 213.8L1878.7 218.5L1883.7 218.7L1879.8 221.7L1881.1 226.5L1877.0 223.7L1872.9 226.5L1874.2 221.7L1870.3 218.7L1875.3 218.5ZM1877.0 219.7L1878.7 224.4L1883.7 224.6L1879.8 227.6L1881.1 232.4L1877.0 229.6L1872.9 232.4L1874.2 227.6L1870.3 224.6L1875.3 224.4ZM1877.0 225.6L1878.7 230.3L1883.7 230.4L1879.8 233.5L1881.1 238.3L1877.0 235.5L1872.9 238.3L1874.2 233.5L1870.3 230.4L1875.3 230.3ZM1877.0 271.6L1878.7 276.2L1883.7 276.4L1879.8 279.5L1881.1 284.2L1877.0 281.5L1872.9 284.2L1874.2 279.5L1870.3 276.4L1875.3 276.2ZM1877.0 294.7L1878.7 299.4L1883.7 299.6L1879.8 302.6L1881.1 307.4L1877.0 304.6L1872.9 307.4L1874.2 302.6L1870.3 299.6L1875.3 299.4ZM1877.0 329.9L1878.7 334.5L1883.7 334.7L1879.8 337.8L1881.1 342.5L1877.0 339.8L1872.9 342.5L1874.2 337.8L1870.3 334.7L1875.3 334.5ZM1877.0 335.7L1878.7 340.4L1883.7 340.6L1879.8 343.6L1881.1 348.4L1877.0 345.6L1872.9 348.4L1874.2 343.6L1870.3 340.6L1875.3 340.4ZM1877.0 353.3L1878.7 357.9L1883.7 358.1L1879.8 361.2L1881.1 365.9L1877.0 363.2L1872.9 365.9L1874.2 361.2L1870.3 358.1L1875.3 357.9ZM1877.0 359.1L1878.7 363.8L1883.7 364.0L1879.8 367.0L1881.1 371.8L1877.0 369.0L1872.9 371.8L1874.2 367.0L1870.3 364.0L1875.3 363.8ZM1877.0 388.5L1878.7 393.2L1883.7 393.3L1879.8 396.4L1881.1 401.2L1877.0 398.4L1872.9 401.2L1874.2 396.4L1870.3 393.3L1875.3 393.2ZM1877.0 394.4L1878.7 399.0L1883.7 399.2L1879.8 402.3L1881.1 407.0L1877.0 404.3L1872.9 407.0L1874.2 402.3L1870.3 399.2L1875.3 399.0ZM1877.0 464.5L1878.7 469.2L1883.7 469.3L1879.8 472.4L1881.1 477.2L1877.0 474.4L1872.9 477.2L1874.2 472.4L1870.3 469.3L1875.3 469.2ZM1877.0 470.3L1878.7 475.0L1883.7 475.2L1879.8 478.2L1881.1 483.0L1877.0 480.2L1872.9 483.0L1874.2 478.2L1870.3 475.2L1875.3 475.0ZM1877.0 476.2L1878.7 480.8L1883.7 481.0L1879.8 484.1L1881.1 488.8L1877.0 486.1L1872.9 488.8L1874.2 484.1L1870.3 481.0L1875.3 480.8ZM1877.0 482.0L1878.7 486.7L1883.7 486.8L1879.8 489.9L1881.1 494.7L1877.0 491.9L1872.9 494.7L1874.2 489.9L1870.3 486.8L1875.3 486.7ZM1877.0 493.7L1878.7 498.3L1883.7 498.5L1879.8 501.6L1881.1 506.3L1877.0 503.6L1872.9 506.3L1874.2 501.6L1870.3 498.5L1875.3 498.3ZM1877.0 499.5L1878.7 504.2L1883.7 504.3L1879.8 507.4L1881.1 512.2L1877.0 509.4L1872.9 512.2L1874.2 507.4L1870.3 504.3L1875.3 504.2ZM1877.0 505.3L1878.7 510.0L1883.7 510.2L1879.8 513.2L1881.1 518.0L1877.0 515.2L1872.9 518.0L1874.2 513.2L1870.3 510.2L1875.3 510.0ZM1877.0 511.2L1878.7 515.8L1883.7 516.0L1879.8 519.1L1881.1 523.8L1877.0 521.1L1872.9 523.8L1874.2 519.1L1870.3 516.0L1875.3 515.8ZM1877.0 522.8L1878.7 527.5L1883.7 527.7L1879.8 530.7L1881.1 535.5L1877.0 532.7L1872.9 535.5L1874.2 530.7L1870.3 527.7L1875.3 527.5ZM1877.0 540.4L1878.7 545.0L1883.7 545.2L1879.8 548.3L1881.1 553.0L1877.0 550.3L1872.9 553.0L1874.2 548.3L1870.3 545.2L1875.3 545.0ZM1877.0 546.2L1878.7 550.9L1883.7 551.1L1879.8 554.1L1881.1 558.9L1877.0 556.1L1872.9 558.9L1874.2 554.1L1870.3 551.1L1875.3 550.9ZM1877.0 557.9L1878.7 562.6L1883.7 562.8L1879.8 565.8L1881.1 570.6L1877.0 567.8L1872.9 570.6L1874.2 565.8L1870.3 562.8L1875.3 562.6ZM1877.0 575.5L1878.7 580.1L1883.7 580.3L1879.8 583.4L1881.1 588.1L1877.0 585.4L1872.9 588.1L1874.2 583.4L1870.3 580.3L1875.3 580.1ZM1877.0 581.3L1878.7 586.0L1883.7 586.1L1879.8 589.2L1881.1 594.0L1877.0 591.2L1872.9 594.0L1874.2 589.2L1870.3 586.1L1875.3 586.0ZM1877.0 587.2L1878.7 591.8L1883.7 592.0L1879.8 595.0L1881.1 599.8L1877.0 597.1L1872.9 599.8L1874.2 595.0L1870.3 592.0L1875.3 591.8ZM1877.0 593.0L1878.7 597.7L1883.7 597.8L1879.8 600.9L1881.1 605.7L1877.0 602.9L1872.9 605.7L1874.2 600.9L1870.3 597.8L1875.3 597.7ZM1877.0 598.9L1878.7 603.5L1883.7 603.7L1879.8 606.8L1881.1 611.5L1877.0 608.8L1872.9 611.5L1874.2 606.8L1870.3 603.7L1875.3 603.5ZM1877.0 610.6L1878.7 615.2L1883.7 615.4L1879.8 618.5L1881.1 623.2L1877.0 620.5L1872.9 623.2L1874.2 618.5L1870.3 615.4L1875.3 615.2ZM1877.0 616.4L1878.7 621.1L1883.7 621.3L1879.8 624.3L1881.1 629.1L1877.0 626.3L1872.9 629.1L1874.2 624.3L1870.3 621.3L1875.3 621.1ZM1877.0 645.0L1878.7 649.7L1883.7 649.8L1879.8 652.9L1881.1 657.7L1877.0 654.9L1872.9 657.7L1874.2 652.9L1870.3 649.8L1875.3 649.7ZM1877.0 650.9L1878.7 655.6L1883.7 655.8L1879.8 658.8L1881.1 663.6L1877.0 660.8L1872.9 663.6L1874.2 658.8L1870.3 655.8L1875.3 655.6ZM1877.0 656.8L1878.7 661.5L1883.7 661.7L1879.8 664.7L1881.1 669.5L1877.0 666.7L1872.9 669.5L1874.2 664.7L1870.3 661.7L1875.3 661.5ZM1877.0 662.8L1878.7 667.4L1883.7 667.6L1879.8 670.6L1881.1 675.4L1877.0 672.6L1872.9 675.4L1874.2 670.6L1870.3 667.6L1875.3 667.4ZM1877.0 668.7L1878.7 673.3L1883.7 673.5L1879.8 676.6L1881.1 681.3L1877.0 678.6L1872.9 681.3L1874.2 676.6L1870.3 673.5L1875.3 673.3ZM1877.0 674.6L1878.7 679.2L1883.7 679.4L1879.8 682.5L1881.1 687.2L1877.0 684.5L1872.9 687.2L1874.2 682.5L1870.3 679.4L1875.3 679.2ZM1877.0 680.5L1878.7 685.2L1883.7 685.3L1879.8 688.4L1881.1 693.2L1877.0 690.4L1872.9 693.2L1874.2 688.4L1870.3 685.3L1875.3 685.2ZM1877.0 686.4L1878.7 691.1L1883.7 691.3L1879.8 694.3L1881.1 699.1L1877.0 696.3L1872.9 699.1L1874.2 694.3L1870.3 691.3L1875.3 691.1ZM1877.0 692.3L1878.7 697.0L1883.7 697.2L1879.8 700.2L1881.1 705.0L1877.0 702.2L1872.9 705.0L1874.2 700.2L1870.3 697.2L1875.3 697.0ZM1877.0 733.6L1878.7 738.3L1883.7 738.4L1879.8 741.5L1881.1 746.3L1877.0 743.5L1872.9 746.3L1874.2 741.5L1870.3 738.4L1875.3 738.3ZM1877.0 785.5L1878.7 790.2L1883.7 790.3L1879.8 793.4L1881.1 798.2L1877.0 795.4L1872.9 798.2L1874.2 793.4L1870.3 790.3L1875.3 790.2ZM1877.0 791.4L1878.7 796.0L1883.7 796.2L1879.8 799.3L1881.1 804.0L1877.0 801.3L1872.9 804.0L1874.2 799.3L1870.3 796.2L1875.3 796.0ZM1877.0 809.0L1878.7 813.7L1883.7 813.8L1879.8 816.9L1881.1 821.7L1877.0 818.9L1872.9 821.7L1874.2 816.9L1870.3 813.8L1875.3 813.7ZM1877.0 814.9L1878.7 819.5L1883.7 819.7L1879.8 822.8L1881.1 827.5L1877.0 824.8L1872.9 827.5L1874.2 822.8L1870.3 819.7L1875.3 819.5ZM1877.0 820.8L1878.7 825.4L1883.7 825.6L1879.8 828.6L1881.1 833.4L1877.0 830.6L1872.9 833.4L1874.2 828.6L1870.3 825.6L1875.3 825.4ZM1877.0 826.6L1878.7 831.3L1883.7 831.5L1879.8 834.5L1881.1 839.3L1877.0 836.5L1872.9 839.3L1874.2 834.5L1870.3 831.5L1875.3 831.3ZM1877.0 832.5L1878.7 837.2L1883.7 837.3L1879.8 840.4L1881.1 845.2L1877.0 842.4L1872.9 845.2L1874.2 840.4L1870.3 837.3L1875.3 837.2ZM1877.0 838.4L1878.7 843.0L1883.7 843.2L1879.8 846.3L1881.1 851.0L1877.0 848.3L1872.9 851.0L1874.2 846.3L1870.3 843.2L1875.3 843.0ZM1877.0 844.2L1878.7 848.9L1883.7 849.1L1879.8 852.1L1881.1 856.9L1877.0 854.1L1872.9 856.9L1874.2 852.1L1870.3 849.1L1875.3 848.9ZM1877.0 850.1L1878.7 854.8L1883.7 855.0L1879.8 858.0L1881.1 862.8L1877.0 860.0L1872.9 862.8L1874.2 858.0L1870.3 855.0L1875.3 854.8ZM1877.0 891.5L1878.7 896.2L1883.7 896.3L1879.8 899.4L1881.1 904.2L1877.0 901.4L1872.9 904.2L1874.2 899.4L1870.3 896.3L1875.3 896.2ZM1877.0 908.9L1878.7 913.6L1883.7 913.8L1879.8 916.8L1881.1 921.6L1877.0 918.8L1872.9 921.6L1874.2 916.8L1870.3 913.8L1875.3 913.6ZM1877.0 914.8L1878.7 919.4L1883.7 919.6L1879.8 922.7L1881.1 927.4L1877.0 924.7L1872.9 927.4L1874.2 922.7L1870.3 919.6L1875.3 919.4ZM1877.0 926.4L1878.7 931.0L1883.7 931.2L1879.8 934.3L1881.1 939.0L1877.0 936.3L1872.9 939.0L1874.2 934.3L1870.3 931.2L1875.3 931.0ZM1877.0 961.6L1878.7 966.2L1883.7 966.4L1879.8 969.5L1881.1 974.2L1877.0 971.5L1872.9 974.2L1874.2 969.5L1870.3 966.4L1875.3 966.2ZM1877.0 967.5L1878.7 972.1L1883.7 972.3L1879.8 975.4L1881.1 980.1L1877.0 977.4L1872.9 980.1L1874.2 975.4L1870.3 972.3L1875.3 972.1ZM1877.0 973.4L1878.7 978.0L1883.7 978.2L1879.8 981.2L1881.1 986.0L1877.0 983.2L1872.9 986.0L1874.2 981.2L1870.3 978.2L1875.3 978.0ZM1877.0 979.2L1878.7 983.9L1883.7 984.1L1879.8 987.1L1881.1 991.9L1877.0 989.1L1872.9 991.9L1874.2 987.1L1870.3 984.1L1875.3 983.9ZM1877.0 985.1L1878.7 989.8L1883.7 990.0L1879.8 993.0L1881.1 997.8L1877.0 995.0L1872.9 997.8L1874.2 993.0L1870.3 990.0L1875.3 989.8ZM1877.0 1002.8L1878.7 1007.5L1883.7 1007.6L1879.8 1010.7L1881.1 1015.5L1877.0 1012.7L1872.9 1015.5L1874.2 1010.7L1870.3 1007.6L1875.3 1007.5ZM1877.0 1014.5L1878.7 1019.2L1883.7 1019.3L1879.8 1022.4L1881.1 1027.2L1877.0 1024.4L1872.9 1027.2L1874.2 1022.4L1870.3 1019.3L1875.3 1019.2ZM1877.0 1020.3L1878.7 1025.0L1883.7 1025.1L1879.8 1028.2L1881.1 1033.0L1877.0 1030.2L1872.9 1033.0L1874.2 1028.2L1870.3 1025.1L1875.3 1025.0ZM1877.0 1037.8L1878.7 1042.4L1883.7 1042.6L1879.8 1045.6L1881.1 1050.4L1877.0 1047.7L1872.9 1050.4L1874.2 1045.6L1870.3 1042.6L1875.3 1042.4ZM1877.0 1043.6L1878.7 1048.2L1883.7 1048.4L1879.8 1051.5L1881.1 1056.2L1877.0 1053.5L1872.9 1056.2L1874.2 1051.5L1870.3 1048.4L1875.3 1048.2ZM1877.0 1049.4L1878.7 1054.0L1883.7 1054.2L1879.8 1057.3L1881.1 1062.0L1877.0 1059.3L1872.9 1062.0L1874.2 1057.3L1870.3 1054.2L1875.3 1054.0ZM1877.0 1061.0L1878.7 1065.7L1883.7 1065.8L1879.8 1068.9L1881.1 1073.7L1877.0 1070.9L1872.9 1073.7L1874.2 1068.9L1870.3 1065.8L1875.3 1065.7ZM1877.0 1066.9L1878.7 1071.5L1883.7 1071.7L1879.8 1074.8L1881.1 1079.5L1877.0 1076.8L1872.9 1079.5L1874.2 1074.8L1870.3 1071.7L1875.3 1071.5ZM1877.0 1072.7L1878.7 1077.4L1883.7 1077.6L1879.8 1080.6L1881.1 1085.4L1877.0 1082.6L1872.9 1085.4L1874.2 1080.6L1870.3 1077.6L1875.3 1077.4ZM1877.0 1078.6L1878.7 1083.2L1883.7 1083.4L1879.8 1086.5L1881.1 1091.2L1877.0 1088.5L1872.9 1091.2L1874.2 1086.5L1870.3 1083.4L1875.3 1083.2ZM1877.0 1084.4L1878.7 1089.1L1883.7 1089.3L1879.8 1092.3L1881.1 1097.1L1877.0 1094.3L1872.9 1097.1L1874.2 1092.3L1870.3 1089.3L1875.3 1089.1ZM1877.0 1090.3L1878.7 1094.9L1883.7 1095.1L1879.8 1098.2L1881.1 1102.9L1877.0 1100.2L1872.9 1102.9L1874.2 1098.2L1870.3 1095.1L1875.3 1094.9ZM1877.0 1096.1L1878.7 1100.8L1883.7 1101.0L1879.8 1104.0L1881.1 1108.8L1877.0 1106.0L1872.9 1108.8L1874.2 1104.0L1870.3 1101.0L1875.3 1100.8ZM1877.0 1131.0L1878.7 1135.7L1883.7 1135.8L1879.8 1138.9L1881.1 1143.7L1877.0 1140.9L1872.9 1143.7L1874.2 1138.9L1870.3 1135.8L1875.3 1135.7ZM1877.0 1142.6L1878.7 1147.3L1883.7 1147.4L1879.8 1150.5L1881.1 1155.3L1877.0 1152.5L1872.9 1155.3L1874.2 1150.5L1870.3 1147.4L1875.3 1147.3ZM1877.0 1148.4L1878.7 1153.1L1883.7 1153.2L1879.8 1156.3L1881.1 1161.1L1877.0 1158.3L1872.9 1161.1L1874.2 1156.3L1870.3 1153.2L1875.3 1153.1ZM1877.0 1177.5L1878.7 1182.2L1883.7 1182.4L1879.8 1185.4L1881.1 1190.2L1877.0 1187.4L1872.9 1190.2L1874.2 1185.4L1870.3 1182.4L1875.3 1182.2ZM1877.0 1206.7L1878.7 1211.4L1883.7 1211.6L1879.8 1214.6L1881.1 1219.4L1877.0 1216.6L1872.9 1219.4L1874.2 1214.6L1870.3 1211.6L1875.3 1211.4ZM1877.0 1224.3L1878.7 1228.9L1883.7 1229.1L1879.8 1232.2L1881.1 1236.9L1877.0 1234.2L1872.9 1236.9L1874.2 1232.2L1870.3 1229.1L1875.3 1228.9ZM1877.0 1259.3L1878.7 1264.0L1883.7 1264.2L1879.8 1267.2L1881.1 1272.0L1877.0 1269.2L1872.9 1272.0L1874.2 1267.2L1870.3 1264.2L1875.3 1264.0ZM1877.0 1294.5L1878.7 1299.2L1883.7 1299.3L1879.8 1302.4L1881.1 1307.2L1877.0 1304.4L1872.9 1307.2L1874.2 1302.4L1870.3 1299.3L1875.3 1299.2ZM1877.0 1306.2L1878.7 1310.9L1883.7 1311.1L1879.8 1314.1L1881.1 1318.9L1877.0 1316.2L1872.9 1318.9L1874.2 1314.1L1870.3 1311.1L1875.3 1310.9ZM1877.0 1312.1L1878.7 1316.8L1883.7 1317.0L1879.8 1320.0L1881.1 1324.8L1877.0 1322.0L1872.9 1324.8L1874.2 1320.0L1870.3 1317.0L1875.3 1316.8ZM1877.0 2434.5L1878.7 2439.2L1883.7 2439.3L1879.8 2442.4L1881.1 2447.2L1877.0 2444.4L1872.9 2447.2L1874.2 2442.4L1870.3 2439.3L1875.3 2439.2ZM1877.0 2870.0L1878.7 2874.7L1883.7 2874.8L1879.8 2877.9L1881.1 2882.7L1877.0 2879.9L1872.9 2882.7L1874.2 2877.9L1870.3 2874.8L1875.3 2874.7Z" fill="#ff0d0d"/>
<g fill="#3a3cf2" fill-opacity="0.62"><rect x="498.0" y="2865.8" width="544.0" height="10.5"/><rect x="262.0" y="2283.8" width="280.0" height="10.5"/><rect x="429.0" y="2112.8" width="188.0" height="10.5"/><rect x="795.5" y="2446.8" width="93.0" height="10.5"/><rect x="649.0" y="1062.8" width="157.0" height="10.5"/><rect x="997.7" y="84.8" width="127.3" height="10.5"/><rect x="1050.0" y="133.8" width="113.0" height="10.5"/><rect x="1065.0" y="62.3" width="235.0" height="10.5"/><rect x="1050.0" y="221.5" width="120.0" height="10.5"/><rect x="1106.0" y="390.8" width="148.0" height="10.5"/><rect x="1162.5" y="472.3" width="190.0" height="10.5"/><rect x="1226.7" y="595.5" width="151.3" height="10.5"/><rect x="1138.0" y="652.5" width="203.7" height="10.5"/><rect x="869.0" y="699.8" width="191.7" height="10.5"/><rect x="1081.0" y="787.8" width="290.7" height="10.5"/><rect x="871.7" y="1047.5" width="93.3" height="10.5"/><rect x="1013.0" y="1067.8" width="192.0" height="10.5"/><rect x="935.0" y="1308.8" width="231.7" height="10.5"/></g>
<path d="M655.9 2863.2L670.0 2867.5M662.6 2868.9L670.0 2867.5L664.7 2862.2" stroke="#111" stroke-width="1.8" fill="none"/>
<circle cx="644.0" cy="2859.5" r="12.6" fill="#000"/>
<text class="nb" x="644.0" y="2866.9" font-size="20.5">1</text>
<path d="M381.1 2277.8L395.0 2285.0M387.5 2285.1L395.0 2285.0L390.7 2278.8" stroke="#111" stroke-width="1.8" fill="none"/>
<circle cx="370.0" cy="2272.0" r="12.6" fill="#000"/>
<text class="nb" x="370.0" y="2279.4" font-size="20.5">2</text>
<path d="M503.9 2102.1L518.0 2110.0M510.5 2109.8L518.0 2110.0L513.9 2103.7" stroke="#111" stroke-width="1.8" fill="none"/>
<circle cx="493.0" cy="2096.0" r="12.6" fill="#000"/>
<text class="nb" x="493.0" y="2103.4" font-size="20.5">3</text>
<path d="M819.0 2438.0L832.0 2445.0M824.5 2444.9L832.0 2445.0L827.9 2438.7" stroke="#111" stroke-width="1.8" fill="none"/>
<circle cx="808.0" cy="2432.0" r="12.6" fill="#000"/>
<text class="nb" x="808.0" y="2439.4" font-size="20.5">4</text>
<path d="M704.5 1053.3L718.0 1062.0M710.5 1061.4L718.0 1062.0L714.3 1055.4" stroke="#111" stroke-width="1.8" fill="none"/>
<circle cx="694.0" cy="1046.5" r="12.6" fill="#000"/>
<text class="nb" x="694.0" y="1053.9" font-size="20.5">5</text>
<path d="M1052.6 79.3L1066.0 86.7M1058.5 86.6L1066.0 86.7L1061.9 80.4" stroke="#111" stroke-width="1.8" fill="none"/>
<circle cx="1041.7" cy="73.3" r="12.6" fill="#000"/>
<text class="nb" x="1041.7" y="80.7" font-size="20.5">6</text>
<path d="M1100.7 128.5L1114.0 136.7M1106.5 136.2L1114.0 136.7L1110.2 130.2" stroke="#111" stroke-width="1.8" fill="none"/>
<circle cx="1090.0" cy="122.0" r="12.6" fill="#000"/>
<text class="nb" x="1090.0" y="129.4" font-size="20.5">7</text>
<path d="M1166.2 55.6L1180.0 62.5M1172.5 62.7L1180.0 62.5L1175.7 56.4" stroke="#111" stroke-width="1.8" fill="none"/>
<circle cx="1155.0" cy="50.0" r="12.6" fill="#000"/>
<text class="nb" x="1155.0" y="57.4" font-size="20.5">9</text>
<path d="M1112.2 216.4L1121.7 225.0M1114.4 223.2L1121.7 225.0L1119.2 217.9" stroke="#111" stroke-width="1.8" fill="none"/>
<circle cx="1103.0" cy="208.0" r="12.6" fill="#000"/>
<text class="nb" x="1103.0" y="214.6" font-size="18" textLength="22" lengthAdjust="spacingAndGlyphs">17</text>
<path d="M1183.1 383.6L1192.5 392.5M1185.3 390.5L1192.5 392.5L1190.1 385.4" stroke="#111" stroke-width="1.8" fill="none"/>
<circle cx="1174.0" cy="375.0" r="12.6" fill="#000"/>
<text class="nb" x="1174.0" y="381.6" font-size="18" textLength="22" lengthAdjust="spacingAndGlyphs">10</text>
<path d="M1253.5 471.0L1267.5 475.0M1260.2 476.5L1267.5 475.0L1262.1 469.8" stroke="#111" stroke-width="1.8" fill="none"/>
<circle cx="1241.5" cy="467.5" r="12.6" fill="#000"/>
<text class="nb" x="1241.5" y="474.1" font-size="18" textLength="22" lengthAdjust="spacingAndGlyphs">15</text>
<path d="M1302.9 590.6L1315.7 597.0M1308.2 597.2L1315.7 597.0L1311.4 590.9" stroke="#111" stroke-width="1.8" fill="none"/>
<circle cx="1291.7" cy="585.0" r="12.6" fill="#000"/>
<text class="nb" x="1291.7" y="591.6" font-size="18" textLength="22" lengthAdjust="spacingAndGlyphs">16</text>
<path d="M1224.9 646.0L1237.0 652.7M1229.5 652.6L1237.0 652.7L1232.9 646.4" stroke="#111" stroke-width="1.8" fill="none"/>
<circle cx="1214.0" cy="640.0" r="12.6" fill="#000"/>
<text class="nb" x="1214.0" y="646.6" font-size="18" textLength="22" lengthAdjust="spacingAndGlyphs">14</text>
<path d="M947.4 693.1L960.7 701.0M953.2 700.6L960.7 701.0L956.8 694.6" stroke="#111" stroke-width="1.8" fill="none"/>
<circle cx="936.7" cy="686.7" r="12.6" fill="#000"/>
<text class="nb" x="936.7" y="693.3" font-size="18" textLength="22" lengthAdjust="spacingAndGlyphs">18</text>
<path d="M1210.3 782.1L1222.7 788.0M1215.2 788.3L1222.7 788.0L1218.2 782.0" stroke="#111" stroke-width="1.8" fill="none"/>
<circle cx="1199.0" cy="776.7" r="12.6" fill="#000"/>
<text class="nb" x="1199.0" y="783.3" font-size="18" textLength="22" lengthAdjust="spacingAndGlyphs">11</text>
<path d="M908.6 1040.0L920.7 1046.7M913.2 1046.6L920.7 1046.7L916.6 1040.4" stroke="#111" stroke-width="1.8" fill="none"/>
<circle cx="897.7" cy="1034.0" r="12.6" fill="#000"/>
<text class="nb" x="897.7" y="1040.6" font-size="18" textLength="22" lengthAdjust="spacingAndGlyphs">13</text>
<path d="M1088.6 1061.1L1101.0 1068.0M1093.5 1067.8L1101.0 1068.0L1096.9 1061.7" stroke="#111" stroke-width="1.8" fill="none"/>
<circle cx="1077.7" cy="1055.0" r="12.6" fill="#000"/>
<text class="nb" x="1077.7" y="1061.6" font-size="18" textLength="22" lengthAdjust="spacingAndGlyphs">12</text>
<path d="M1037.4 1303.1L1050.0 1310.7M1042.5 1310.3L1050.0 1310.7L1046.1 1304.3" stroke="#111" stroke-width="1.8" fill="none"/>
<circle cx="1026.7" cy="1296.7" r="12.6" fill="#000"/>
<text class="nb" x="1026.7" y="1304.1" font-size="20.5">8</text>
<rect x="24" y="3086.4" width="1909.5" height="5.4" fill="#000"/>
<rect x="138.1" y="3090" width="2.6" height="3.6" fill="#000"/>
<rect x="416.5" y="3090" width="2.6" height="3.6" fill="#000"/>
<rect x="694.9" y="3090" width="2.6" height="3.6" fill="#000"/>
<rect x="973.2" y="3090" width="2.6" height="3.6" fill="#000"/>
<rect x="1251.6" y="3090" width="2.6" height="3.6" fill="#000"/>
<rect x="1530.0" y="3090" width="2.6" height="3.6" fill="#000"/>
<rect x="1808.4" y="3090" width="2.6" height="3.6" fill="#000"/>
<rect x="1928" y="47" width="5.5" height="3046" fill="#000"/>
<text class="ax" x="139.4" y="3137">2019.9</text>
<text class="ax" x="417.8" y="3137">2020</text>
<text class="ax" x="696.2" y="3137">2020.1</text>
<text class="ax" x="974.5" y="3137">2020.2</text>
<text class="ax" x="1252.9" y="3137">2020.3</text>
<text class="ax" x="1531.3" y="3137">2020.4</text>
<text class="ax" x="1809.7" y="3137">2020.5</text>
<text class="lg" x="1951.8" y="86">Branch colors:</text>
<rect x="1950" y="113" width="18" height="14" fill="#b414f5"/>
<text class="lg" x="1976" y="132">South America</text>
<rect x="1950" y="154" width="19" height="14" fill="#00f082"/>
<text class="lg" x="1975.5" y="172.5">Europe</text>
<path d="M1959.0 194.5L1961.7 202.3L1969.9 202.4L1963.4 207.4L1965.8 215.3L1959.0 210.6L1952.2 215.3L1954.6 207.4L1948.1 202.4L1956.3 202.3Z" fill="#ff0d0d"/>
<text class="lg" x="1975" y="217">IAM genomes</text>
<text class="ln" x="1974.6" y="1264.0">B.1 Lineage</text>
<text class="ln" x="1974.6" y="2474.0">B Lineage</text>
<text class="ln" x="1974.6" y="2554.0">B.6 Lineage</text>
<text class="ln" x="1974.6" y="2670.0">B.4 Lineage</text>
<text class="ln" x="1974.6" y="2780.0">B.2 Lineage</text>
<text class="ln" x="1974.6" y="2843.0">B Lineage</text>
<text class="ln" x="1974.6" y="2882.0">B.3 Lineage</text>
<text class="ln" x="1975.6" y="2922.5">B Lineage</text>
<text class="ln" x="1976.0" y="2996.5">A Lineage</text>
<path d="M1935.0 1254.4H1970.0" stroke="#000" stroke-width="2.2" stroke-dasharray="5 3.3" fill="none"/>
<path d="M1959.0 1243.4L1971.0 1254.4L1959.0 1265.4" stroke="#000" stroke-width="2.2" fill="none" stroke-linejoin="miter"/>
<path d="M1935.0 2464.5H1970.0" stroke="#000" stroke-width="2.2" stroke-dasharray="5 3.3" fill="none"/>
<path d="M1959.0 2453.5L1971.0 2464.5L1959.0 2475.5" stroke="#000" stroke-width="2.2" fill="none" stroke-linejoin="miter"/>
<path d="M1935.0 2544.0H1970.0" stroke="#000" stroke-width="2.2" stroke-dasharray="5 3.3" fill="none"/>
<path d="M1959.0 2533.0L1971.0 2544.0L1959.0 2555.0" stroke="#000" stroke-width="2.2" fill="none" stroke-linejoin="miter"/>
<path d="M1935.0 2659.5H1970.0" stroke="#000" stroke-width="2.2" stroke-dasharray="5 3.3" fill="none"/>
<path d="M1959.0 2648.5L1971.0 2659.5L1959.0 2670.5" stroke="#000" stroke-width="2.2" fill="none" stroke-linejoin="miter"/>
<path d="M1935.0 2770.5H1970.0" stroke="#000" stroke-width="2.2" stroke-dasharray="5 3.3" fill="none"/>
<path d="M1959.0 2759.5L1971.0 2770.5L1959.0 2781.5" stroke="#000" stroke-width="2.2" fill="none" stroke-linejoin="miter"/>
<path d="M1935.0 2872.5H1970.0" stroke="#000" stroke-width="2.2" stroke-dasharray="5 3.3" fill="none"/>
<path d="M1959.0 2861.5L1971.0 2872.5L1959.0 2883.5" stroke="#000" stroke-width="2.2" fill="none" stroke-linejoin="miter"/>
<path d="M1935.0 2986.5H1970.0" stroke="#000" stroke-width="2.2" stroke-dasharray="5 3.3" fill="none"/>
<path d="M1959.0 2975.5L1971.0 2986.5L1959.0 2997.5" stroke="#000" stroke-width="2.2" fill="none" stroke-linejoin="miter"/>
<path d="M1935.0 2852.0L1965.0 2834.0" stroke="#000" stroke-width="2.2" stroke-dasharray="5 3.3" fill="none"/>
<path d="M1957.2 2848.0L1965.0 2834.0L1949.0 2834.3" stroke="#000" stroke-width="2.2" fill="none"/>
<path d="M1935.0 2886.0L1965.0 2904.0" stroke="#000" stroke-width="2.2" stroke-dasharray="5 3.3" fill="none"/>
<path d="M1949.0 2903.7L1965.0 2904.0L1957.2 2890.0" stroke="#000" stroke-width="2.2" fill="none"/>
</g>
</svg></body></html>
